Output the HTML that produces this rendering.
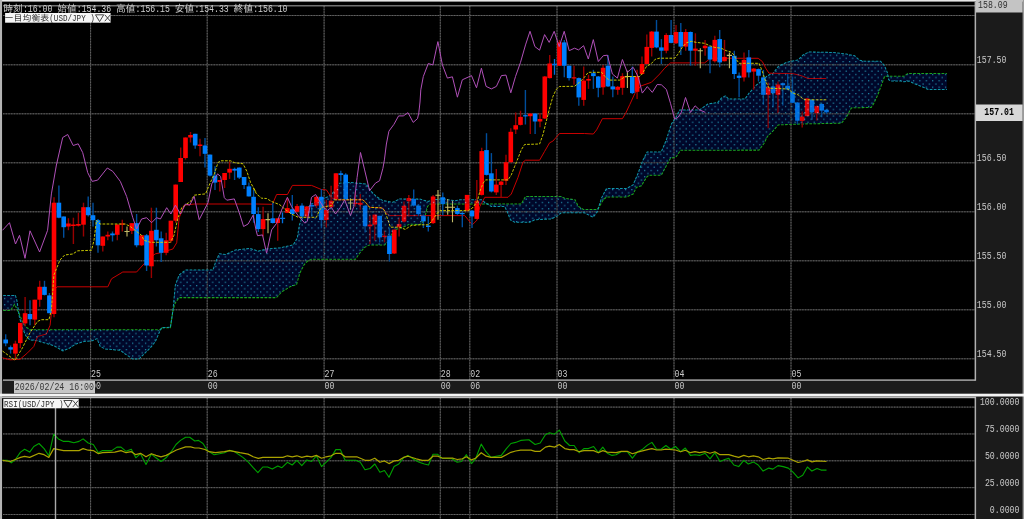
<!DOCTYPE html>
<html lang="ja"><head><meta charset="utf-8"><title>一目均衡表 USD/JPY</title>
<style>html,body{margin:0;padding:0;background:#000;overflow:hidden}body{width:1024px;height:519px}svg text{white-space:pre}</style>
</head><body>
<svg width="1024" height="519" viewBox="0 0 1024 519" style="display:block">
<defs>
<pattern id="dots" x="0" y="0" width="8" height="8" patternUnits="userSpaceOnUse"><rect width="8" height="8" fill="#01082b"/></pattern>
<pattern id="dots2" x="4.1" y="3.4" width="6.4" height="6.4" patternUnits="userSpaceOnUse"><rect x="0" y="0" width="1.2" height="1.2" fill="#2290ac"/><rect x="3.2" y="3.2" width="1.2" height="1.2" fill="#2290ac"/></pattern>
<filter id="bl2" color-interpolation-filters="sRGB" x="-2%" y="-2%" width="104%" height="104%"><feGaussianBlur stdDeviation="0.3"/></filter>
<filter id="bl" color-interpolation-filters="sRGB" x="-2%" y="-2%" width="104%" height="104%"><feGaussianBlur stdDeviation="0.62"/></filter>
</defs>
<rect width="1024" height="519" fill="#000"/>
<g id="all" filter="url(#bl)">
<defs><polygon id="cl" points="3.2,295.4 4.2,295.4 5.2,295.4 6.2,295.4 7.2,295.4 8.2,295.4 9.2,295.4 10.2,295.4 10.5,295.4 11.2,295.4 12.2,295.4 13.2,295.4 14.2,295.4 14.6,295.4 15.2,295.4 15.4,295.4 16.2,298.2 17.0,301.0 17.2,302.4 17.8,306.4 18.2,309.1 19.2,315.8 19.4,317.2 20.2,319.9 21.2,323.4 22.2,326.8 22.7,328.5 23.2,329.6 24.2,331.9 25.2,334.2 25.9,335.8 26.2,336.1 27.2,337.1 28.2,338.1 29.2,339.1 30.0,339.9 30.2,339.9 31.2,340.0 32.2,340.1 33.2,340.3 34.2,340.4 35.2,340.5 36.2,340.6 37.2,340.7 38.2,341.0 39.2,341.4 40.2,341.7 41.2,342.0 42.0,342.3 42.2,342.3 43.2,342.6 44.2,342.8 45.2,343.1 46.2,343.3 47.2,343.6 48.2,343.8 48.5,343.9 49.2,344.2 50.2,344.5 51.2,344.9 52.2,345.3 53.2,345.6 54.2,346.0 55.0,346.3 55.2,346.4 56.2,347.0 57.2,347.6 58.2,348.1 59.2,348.7 60.2,349.3 61.2,349.9 62.2,350.4 63.0,350.9 63.2,350.8 64.2,350.4 65.2,349.9 66.2,349.5 67.2,349.1 68.2,348.6 69.2,348.2 69.6,348.0 70.2,347.6 71.2,347.0 72.2,346.3 73.2,345.7 74.2,345.1 75.2,344.4 76.0,343.9 76.2,343.8 77.2,343.5 78.2,343.2 79.2,342.9 80.2,342.6 81.2,342.3 82.2,342.0 83.2,341.7 84.0,341.5 84.2,341.5 85.2,341.4 86.2,341.3 87.2,341.2 88.2,341.1 89.2,341.0 90.2,340.9 91.2,340.8 92.2,340.7 93.2,340.3 94.2,339.8 95.2,339.4 96.2,338.9 97.0,338.6 97.2,339.1 98.2,341.5 99.2,343.9 100.2,346.3 100.3,346.5 101.2,346.9 102.2,347.4 103.2,347.9 104.2,348.4 105.2,348.9 105.3,349.0 106.2,349.1 107.2,349.2 108.2,349.3 109.2,349.3 110.2,349.4 111.2,349.5 112.2,349.6 113.2,349.7 114.2,349.8 115.2,349.9 116.2,349.9 117.2,350.0 118.2,350.1 119.2,350.2 120.2,350.3 120.3,350.3 121.2,351.0 122.2,351.7 123.2,352.4 124.2,353.2 125.2,353.9 125.3,354.0 126.2,354.6 127.2,355.3 128.2,355.9 129.2,356.6 130.2,357.3 131.2,357.9 132.2,358.6 132.8,359.0 133.2,359.0 134.2,359.0 135.2,359.0 136.2,359.0 137.2,359.0 138.2,359.0 139.0,359.0 139.2,358.8 140.2,357.8 141.2,356.8 142.2,355.8 143.2,354.8 144.0,354.0 144.2,353.8 145.2,352.8 146.2,351.8 147.2,350.9 148.2,349.9 149.2,348.9 150.2,347.9 150.4,347.7 151.2,346.7 152.2,345.5 153.2,344.2 154.2,343.0 155.2,341.7 155.4,341.5 156.2,339.6 157.2,337.2 158.2,334.8 159.1,332.7 159.2,332.5 160.2,330.6 160.4,330.2 161.2,328.7 161.7,327.7 162.2,327.7 163.2,327.6 164.2,327.6 165.2,327.5 166.2,327.4 167.2,327.4 168.2,327.3 169.2,327.3 170.2,327.2 170.4,327.2 171.2,321.9 172.2,315.3 173.0,310.0 173.2,307.9 174.2,297.5 175.2,287.1 175.4,285.0 176.2,282.9 177.2,280.3 178.2,277.6 179.2,275.0 180.2,274.2 181.2,273.4 182.2,272.6 183.2,271.8 184.2,271.0 185.2,270.2 185.5,270.0 186.2,270.0 187.2,270.0 188.2,270.0 189.2,270.0 190.2,270.0 191.2,270.0 192.2,270.0 193.2,270.0 194.2,270.0 195.2,270.0 196.2,270.0 197.2,270.0 198.2,270.0 199.2,270.0 200.2,270.0 201.2,270.0 202.2,270.0 203.2,270.0 204.2,270.0 205.2,270.0 206.2,270.0 207.2,270.0 208.2,270.0 209.2,270.0 210.2,270.0 211.2,270.0 212.2,270.0 213.0,270.0 213.2,269.4 214.2,266.4 215.2,263.4 215.5,262.5 216.2,260.9 217.2,258.6 218.2,256.3 219.2,254.0 219.3,253.8 220.2,253.9 221.2,254.0 222.2,254.1 223.2,254.2 224.2,254.3 225.2,254.5 225.6,254.5 226.2,254.2 227.2,253.8 228.2,253.3 229.2,252.9 230.2,252.4 231.2,252.0 232.2,251.5 233.2,251.1 234.2,250.6 235.2,250.2 235.6,250.0 236.2,249.9 237.2,249.8 238.2,249.7 239.2,249.6 240.0,249.5 240.2,249.5 241.2,249.4 242.2,249.3 243.2,249.2 244.2,249.1 245.2,249.0 246.2,248.9 247.2,248.8 248.2,248.7 249.2,248.6 250.0,248.5 250.2,248.6 251.2,248.9 252.2,249.2 253.2,249.5 254.2,249.9 255.2,250.2 256.0,250.5 256.2,250.5 257.2,250.8 258.2,251.2 258.3,251.2 259.2,251.0 260.2,250.7 261.2,250.4 262.2,250.2 263.2,249.9 264.2,249.6 265.2,249.4 266.2,249.1 266.6,249.0 267.2,249.0 268.2,248.9 269.2,248.8 270.2,248.7 271.2,248.6 272.2,248.5 273.2,248.5 274.2,248.4 275.2,248.3 276.2,248.2 276.5,248.2 277.2,248.1 278.2,248.0 279.2,248.0 279.9,247.9 280.2,247.8 281.2,247.6 282.0,247.4 282.2,247.4 283.2,247.2 284.2,246.9 284.9,246.8 285.2,246.7 286.2,246.5 287.2,246.3 288.2,246.0 289.2,245.8 289.9,245.6 290.2,245.6 291.2,245.4 292.2,245.1 293.2,244.9 294.2,243.3 295.2,241.6 296.2,240.0 296.5,239.5 297.2,238.4 297.3,238.2 298.2,232.5 299.2,226.3 299.4,225.0 299.8,223.9 300.2,222.7 301.2,219.9 302.2,217.1 303.2,214.3 304.0,212.1 304.2,211.5 304.8,209.8 305.2,209.5 306.2,208.7 307.2,207.9 308.1,207.2 308.2,207.1 309.2,206.3 310.2,205.5 311.2,204.7 311.5,204.5 312.2,203.9 313.1,203.2 313.2,203.2 314.2,202.7 315.2,202.3 316.2,201.9 317.2,201.5 318.2,201.1 319.2,200.6 320.2,200.2 321.2,199.8 322.2,199.4 323.1,199.0 323.2,199.0 324.2,198.5 325.2,198.0 326.2,197.5 327.2,197.0 328.2,196.5 329.2,196.0 330.2,195.5 331.2,195.0 331.4,194.9 332.2,193.8 333.2,192.4 334.2,191.0 335.2,189.5 336.2,188.1 337.2,186.7 338.2,185.3 339.2,183.9 339.7,183.2 340.2,183.2 341.2,183.1 342.2,183.0 343.2,182.9 344.2,182.8 345.2,182.8 346.2,182.7 347.2,182.6 348.2,182.5 349.2,182.4 349.7,182.4 350.2,182.4 351.2,182.5 352.2,182.6 353.2,182.7 354.2,182.8 355.2,182.9 355.5,183.0 356.2,183.0 357.2,183.1 358.2,183.2 359.2,183.3 359.6,183.4 360.2,183.4 361.2,183.5 362.2,183.6 363.2,183.7 364.2,183.8 364.6,183.8 365.2,183.9 366.2,184.0 366.3,184.0 367.2,185.5 368.2,187.1 369.2,188.7 369.6,189.4 370.2,190.4 370.4,190.7 371.2,191.5 372.2,192.5 373.2,193.5 374.2,194.5 375.2,195.5 376.2,196.5 377.2,197.1 378.2,197.8 379.2,198.4 380.2,199.0 381.2,199.6 382.2,200.3 382.9,200.7 383.2,200.7 384.2,200.9 384.6,201.0 385.2,201.1 386.2,201.2 387.2,201.4 387.9,201.5 388.2,201.5 389.2,201.7 390.2,201.9 391.2,202.0 392.2,202.2 392.9,202.3 393.2,202.2 394.2,201.7 394.5,201.5 395.2,201.2 396.2,200.7 397.2,200.2 398.2,199.7 399.2,199.2 399.5,199.0 400.2,199.0 401.2,199.0 402.2,199.0 403.2,199.0 404.2,199.0 404.5,199.0 405.2,199.0 406.2,199.0 407.2,199.0 408.2,199.0 409.2,199.0 409.5,199.0 410.2,199.0 411.2,199.0 412.2,199.0 413.2,199.0 414.2,199.0 415.2,199.0 416.2,199.0 417.2,199.0 418.2,199.0 419.2,199.0 419.4,199.0 420.2,199.2 421.2,199.5 422.0,199.7 422.2,199.8 423.2,200.1 424.2,200.3 425.0,200.6 425.2,200.6 426.2,200.9 427.2,201.2 427.5,201.3 428.2,201.5 428.3,201.5 429.2,201.0 430.0,200.6 430.2,200.5 431.2,200.0 431.6,199.8 432.2,199.8 433.2,199.7 434.2,199.6 435.2,199.6 436.2,199.5 437.2,199.5 438.2,199.4 439.2,199.3 440.2,199.3 441.2,199.2 442.2,199.2 443.2,199.1 444.2,199.0 444.9,199.0 445.2,199.1 446.2,199.3 447.2,199.6 448.2,199.8 449.2,199.9 450.2,200.1 451.2,200.2 452.2,200.3 453.2,200.5 454.2,200.6 454.9,200.7 455.2,200.6 456.2,200.5 457.2,200.3 458.2,200.1 459.2,199.9 459.9,199.8 460.2,199.8 461.2,199.8 462.2,199.8 463.2,199.8 464.2,199.8 465.2,199.8 466.2,199.8 467.2,199.8 468.2,199.8 469.2,199.8 470.2,199.8 471.2,199.8 472.2,199.8 473.2,199.8 474.2,199.8 475.2,199.8 476.2,199.8 477.2,199.8 478.2,199.8 479.2,199.8 480.2,199.8 481.2,199.8 481.4,199.8 482.2,200.4 483.2,201.1 484.2,201.9 484.8,202.3 485.2,202.6 486.2,203.2 487.2,203.8 488.2,204.5 489.2,205.1 490.2,205.7 491.2,206.4 491.4,206.5 492.2,206.5 493.2,206.5 494.2,206.5 495.2,206.5 496.2,206.5 497.2,206.5 498.2,206.5 499.2,206.5 500.2,206.5 501.2,206.5 502.2,206.5 503.2,206.5 504.2,206.5 504.7,206.5 505.2,207.5 506.2,209.5 507.2,211.5 508.2,214.0 509.2,216.5 510.2,219.0 510.5,219.8 511.2,220.2 512.2,220.8 513.2,221.4 514.2,222.0 514.7,222.3 515.2,222.3 516.2,222.3 517.2,222.3 518.2,222.3 519.2,222.3 520.2,222.3 521.2,222.3 521.3,222.3 522.2,222.3 523.2,222.3 524.2,222.3 525.2,222.3 525.5,222.3 526.2,222.3 527.2,222.3 528.2,222.3 529.2,222.3 529.6,222.3 530.2,222.0 531.2,221.5 532.2,221.0 533.2,220.5 534.2,220.0 534.6,219.8 535.2,219.8 536.2,219.7 537.2,219.7 538.2,219.6 539.2,219.6 540.2,219.5 541.2,219.4 542.2,219.4 543.2,219.3 544.2,219.3 545.2,219.2 546.2,219.2 547.2,219.1 548.2,219.1 549.2,219.0 550.2,219.0 551.2,218.9 552.2,218.4 553.2,217.9 554.2,217.4 555.2,216.9 556.2,216.4 557.2,215.9 557.9,215.6 558.2,215.3 559.2,214.5 560.2,213.6 561.2,212.8 562.2,212.8 563.2,212.8 564.2,212.8 564.5,212.8 565.2,212.8 566.2,212.8 567.2,212.8 568.2,212.8 569.2,212.8 570.2,212.8 571.2,212.8 572.2,212.8 573.2,212.8 574.2,212.8 574.5,212.8 575.0,212.8 575.2,212.8 576.2,212.8 577.2,212.8 578.2,212.8 578.3,212.8 579.2,212.8 580.2,212.8 581.2,212.8 582.2,212.8 583.2,212.8 583.3,212.8 584.2,212.8 584.4,212.8 585.2,213.2 586.2,213.7 587.2,214.2 588.2,214.7 589.2,215.2 590.2,215.7 591.2,216.2 592.2,216.7 593.2,217.2 594.2,215.8 595.2,214.4 596.2,213.1 597.2,211.7 597.4,211.4 598.2,208.8 599.2,205.6 599.9,203.3 600.2,202.3 601.2,199.1 601.5,198.1 602.2,196.8 603.2,194.8 604.2,192.9 605.2,191.0 606.2,189.1 606.5,188.5 607.2,188.5 608.2,188.5 609.2,188.5 610.2,188.5 611.2,188.5 612.2,188.5 613.2,188.5 614.2,188.5 615.2,188.5 616.2,188.5 617.2,188.5 618.2,188.5 619.2,188.5 620.2,188.5 621.2,188.5 622.2,188.5 623.2,188.5 624.2,188.5 625.2,188.5 626.2,188.5 626.4,188.5 627.2,188.1 628.2,187.5 629.2,187.0 630.2,186.5 631.2,185.9 632.2,185.4 633.1,184.9 633.2,184.7 634.2,182.3 635.2,180.0 636.2,177.6 636.4,177.2 637.2,175.3 638.1,173.2 638.2,172.9 639.2,170.3 640.2,167.6 641.2,165.0 641.4,164.4 642.2,162.3 643.1,159.9 643.2,159.7 644.2,157.8 645.2,155.9 646.2,153.9 646.4,153.5 647.2,152.0 648.2,152.0 648.9,152.0 649.2,152.0 650.2,152.0 651.2,152.0 652.2,152.0 653.2,152.0 654.2,152.0 655.2,152.0 656.2,152.0 657.2,152.0 658.2,152.0 659.2,152.0 660.2,152.0 661.2,152.0 661.3,152.0 662.2,149.8 663.2,147.5 664.2,145.1 665.2,142.7 666.2,140.3 666.3,140.0 666.4,139.8 667.2,137.3 668.2,134.1 669.2,131.0 670.2,127.8 670.5,126.8 671.2,124.6 671.4,124.0 672.2,122.9 673.2,121.5 674.2,120.0 675.2,118.6 675.5,118.2 676.2,116.8 676.3,116.6 677.2,114.8 678.2,112.9 679.2,110.9 679.7,109.9 680.2,109.9 680.4,109.9 681.2,109.9 682.2,109.9 683.2,109.9 684.2,109.9 685.2,109.9 686.2,109.9 687.2,109.9 688.2,109.9 689.2,109.9 690.2,109.9 691.2,109.9 692.2,109.9 693.2,109.9 694.2,109.9 695.2,109.9 696.2,109.9 697.2,109.9 698.2,109.9 699.2,109.9 699.6,109.9 700.2,109.5 701.2,108.8 702.2,108.1 703.2,107.4 704.2,106.7 705.2,106.0 706.2,105.3 707.2,104.6 707.9,104.1 708.2,104.0 709.2,103.9 710.2,103.7 711.2,103.5 712.2,103.4 713.2,103.2 714.2,103.0 715.2,102.9 716.2,102.7 717.2,102.5 717.9,102.4 718.2,102.0 719.2,100.8 720.2,99.5 721.2,98.3 722.2,97.7 723.2,97.1 724.2,96.5 725.2,95.9 725.3,95.8 726.2,96.7 727.2,97.6 728.2,98.6 728.7,99.1 729.2,99.1 730.2,99.1 731.2,99.1 732.2,99.1 733.2,99.1 734.2,99.1 735.2,99.1 736.2,99.1 737.2,99.0 738.2,99.0 739.2,99.0 740.2,99.0 741.2,99.0 742.2,99.0 743.2,99.0 744.2,99.0 745.0,99.0 745.2,98.7 746.2,97.3 747.2,95.9 748.2,94.5 749.1,93.2 749.2,93.1 750.2,92.0 751.2,90.9 752.2,89.8 753.2,88.7 754.2,87.6 755.2,86.4 756.2,85.3 756.6,84.9 757.2,84.4 758.2,83.7 759.1,83.0 759.2,82.9 760.2,82.2 761.2,81.4 762.2,80.7 763.2,79.9 764.1,79.0 764.2,78.9 765.2,77.9 766.2,76.9 767.2,75.9 767.4,75.7 768.2,75.4 769.2,74.9 770.2,74.5 771.2,74.1 772.2,73.6 773.2,73.2 774.2,71.9 775.2,70.6 776.2,69.2 777.2,67.9 778.2,66.6 779.2,66.1 780.2,65.6 781.2,65.1 782.2,64.6 783.2,64.1 784.2,63.6 785.2,63.1 786.2,62.6 786.5,62.4 787.2,62.2 788.2,62.0 789.2,61.8 790.2,61.6 791.2,61.4 792.2,61.2 793.2,61.0 794.2,60.7 795.2,60.5 796.2,60.3 797.2,60.1 798.1,59.9 798.2,59.8 799.2,58.8 799.8,58.2 800.2,57.8 801.2,56.9 802.2,55.9 803.1,55.0 803.2,54.9 804.2,54.4 805.2,53.9 806.2,53.4 807.2,52.9 808.2,52.4 808.9,52.0 809.2,52.0 810.2,52.0 811.2,52.0 812.2,52.1 813.2,52.1 814.2,52.1 815.2,52.1 816.2,52.2 817.2,52.2 818.2,52.2 819.2,52.2 820.2,52.2 821.2,52.3 822.2,52.3 823.2,52.3 824.2,52.3 825.2,52.3 826.2,52.4 827.2,52.4 828.2,52.4 829.2,52.4 830.2,52.4 831.2,52.5 832.2,52.5 833.0,52.5 833.2,52.5 834.2,52.6 835.2,52.8 836.2,52.9 837.2,53.0 838.2,53.1 839.2,53.2 840.2,53.4 841.2,53.5 841.3,53.5 842.2,53.6 843.2,53.7 844.2,53.8 845.2,54.0 846.2,54.1 846.3,54.1 847.2,54.3 848.2,54.5 849.2,54.7 850.2,54.9 851.2,55.1 851.3,55.1 852.2,55.3 853.2,55.5 854.2,55.7 854.6,55.8 855.2,56.3 856.2,57.2 857.2,58.1 858.2,59.0 859.2,59.9 859.6,60.3 860.2,60.4 861.2,60.6 862.2,60.8 863.2,61.0 864.2,61.1 864.5,61.2 865.2,61.2 866.2,61.2 867.2,61.2 868.2,61.2 869.2,61.2 870.2,61.2 871.2,61.2 872.2,61.2 873.2,61.2 873.7,61.2 874.2,61.2 875.2,61.2 876.2,61.2 877.2,61.2 877.8,61.2 878.2,61.2 879.2,61.2 880.2,61.2 880.5,61.2 881.2,62.0 881.9,62.8 882.2,63.2 883.2,64.4 884.2,65.5 884.6,66.0 885.2,67.5 886.2,69.9 887.2,72.3 887.4,72.8 888.2,77.0 888.7,79.7 889.2,80.0 890.2,80.6 890.8,81.0 891.2,81.0 892.2,81.0 893.2,81.0 894.2,81.0 895.2,81.0 896.2,81.0 897.2,81.0 898.2,81.0 899.2,81.0 900.2,81.0 901.0,81.0 901.2,81.1 902.2,81.3 903.2,81.6 903.8,81.7 904.2,81.6 905.2,81.5 906.2,81.4 907.2,81.3 907.9,81.2 908.2,81.1 909.2,81.0 910.2,81.5 911.2,82.0 912.2,82.5 913.2,83.0 914.2,83.5 914.7,83.8 915.2,84.0 916.2,84.4 917.2,84.8 918.2,85.2 919.2,85.6 920.2,86.0 921.2,86.3 921.6,86.5 922.2,86.8 923.2,87.2 924.2,87.6 925.2,88.1 926.2,88.5 927.2,89.0 928.2,89.4 928.4,89.5 929.2,89.5 930.2,89.5 931.2,89.5 932.2,89.5 933.2,89.5 934.2,89.5 935.2,89.5 936.2,89.5 937.2,89.5 938.2,89.5 939.2,89.5 940.2,89.5 941.2,89.5 942.2,89.5 943.2,89.5 944.2,89.5 945.2,89.5 946.2,89.5 946.9,89.5 946.9,73.5 946.2,73.5 945.2,73.5 944.2,73.5 943.2,73.5 942.2,73.5 941.2,73.5 940.2,73.5 939.2,73.5 938.2,73.5 937.2,73.5 936.2,73.5 935.2,73.5 934.2,73.5 933.2,73.5 932.2,73.5 931.2,73.5 930.2,73.5 929.2,73.5 928.4,73.5 928.2,73.5 927.2,73.5 926.2,73.5 925.2,73.5 924.2,73.5 923.2,73.5 922.2,73.5 921.6,73.5 921.2,73.5 920.2,73.5 919.2,73.5 918.2,73.5 917.2,73.5 916.2,73.5 915.2,73.5 914.7,73.5 914.2,73.5 913.2,73.5 912.2,73.5 911.2,73.5 910.2,73.5 909.2,73.5 908.2,73.5 907.9,73.5 907.2,74.0 906.2,74.7 905.2,75.3 904.2,76.0 903.8,76.3 903.2,76.3 902.2,76.3 901.2,76.3 901.0,76.3 900.2,76.3 899.2,76.3 898.2,76.3 897.2,76.3 896.2,76.3 895.2,76.3 894.2,76.3 893.2,76.3 892.2,76.3 891.2,76.3 890.8,76.3 890.2,76.3 889.2,76.3 888.7,76.3 888.2,76.3 887.4,76.3 887.2,76.3 886.2,76.3 885.2,76.3 884.6,76.3 884.2,77.4 883.2,80.2 882.2,83.0 881.9,83.8 881.2,85.7 880.5,87.5 880.2,88.3 879.2,91.0 878.2,93.6 877.8,94.7 877.2,96.0 876.2,98.2 875.2,100.3 874.2,102.5 873.7,103.6 873.2,104.4 872.2,105.9 871.2,107.4 870.2,107.4 869.2,107.5 868.2,107.5 867.2,107.5 866.2,107.5 865.2,107.6 864.5,107.6 864.2,107.6 863.2,107.6 862.2,107.6 861.2,107.7 860.2,107.7 859.6,107.7 859.2,107.7 858.2,107.7 857.2,107.8 856.2,107.8 855.2,107.8 854.6,107.8 854.2,107.8 853.2,107.9 852.2,107.9 851.3,107.9 851.2,108.1 850.2,110.0 849.2,111.9 848.2,113.8 847.2,115.7 846.3,117.4 846.2,117.5 845.2,118.7 844.2,119.8 843.2,121.0 842.2,122.2 841.3,123.2 841.2,123.2 840.2,123.2 839.2,123.2 838.2,123.3 837.2,123.3 836.2,123.3 835.2,123.3 834.2,123.3 833.2,123.4 833.0,123.4 832.2,123.4 831.2,123.4 830.2,123.4 829.2,123.4 828.2,123.5 827.2,123.5 826.2,123.5 825.2,123.5 824.2,123.5 823.2,123.5 822.2,123.6 821.2,123.6 820.2,123.6 819.2,123.6 818.2,123.6 817.2,123.7 816.2,123.7 815.2,123.7 814.2,123.7 813.2,123.7 812.2,123.8 811.2,123.8 810.2,123.8 809.2,123.8 808.9,123.8 808.2,123.8 807.2,123.9 806.2,123.9 805.2,123.9 804.2,123.9 803.2,123.9 803.1,123.9 802.2,124.0 801.2,124.0 800.2,124.0 799.8,124.0 799.2,124.0 798.2,124.1 798.1,124.1 797.2,124.1 796.2,124.1 795.2,124.2 794.2,124.2 793.2,124.3 792.2,124.3 791.2,124.4 790.2,124.4 789.2,124.4 788.2,124.5 787.2,124.5 786.5,124.6 786.2,124.6 785.2,124.6 784.2,124.7 783.2,124.7 782.2,124.7 781.2,124.8 780.2,124.8 779.2,124.9 778.2,124.9 777.2,126.1 776.2,127.2 775.2,128.4 774.2,129.5 773.2,130.7 772.2,131.7 771.2,132.7 770.2,133.7 769.2,134.7 768.2,135.7 767.4,136.5 767.2,136.9 766.2,138.9 765.2,141.0 764.2,143.0 764.1,143.2 763.2,144.4 762.2,145.8 761.2,147.2 760.2,148.6 759.2,150.0 759.1,150.1 758.2,150.1 757.2,150.1 756.6,150.1 756.2,150.1 755.2,150.1 754.2,150.1 753.2,150.1 752.2,150.1 751.2,150.1 750.2,150.1 749.2,150.1 749.1,150.1 748.2,150.1 747.2,150.1 746.2,150.1 745.2,150.1 745.0,150.1 744.2,150.1 743.2,150.1 742.2,150.1 741.2,150.1 740.2,150.1 739.2,150.2 738.2,150.2 737.2,150.2 736.2,150.2 735.2,150.2 734.2,150.2 733.2,150.2 732.2,150.2 731.2,150.2 730.2,150.2 729.2,150.2 728.7,150.2 728.2,150.2 727.2,150.2 726.2,150.2 725.3,150.2 725.2,150.2 724.2,150.2 723.2,150.2 722.2,150.2 721.2,150.2 720.2,150.2 719.2,150.2 718.2,150.2 717.9,150.2 717.2,150.2 716.2,150.2 715.2,150.2 714.2,150.2 713.2,150.2 712.2,150.2 711.2,150.2 710.2,150.2 709.2,150.2 708.2,150.2 707.9,150.2 707.2,150.2 706.2,150.2 705.2,150.2 704.2,150.2 703.2,150.2 702.2,150.2 701.2,150.2 700.2,150.2 699.6,150.3 699.2,150.3 698.2,150.3 697.2,150.3 696.2,150.3 695.2,150.3 694.2,150.3 693.2,150.3 692.2,150.3 691.2,150.3 690.2,150.3 689.2,150.3 688.2,150.3 687.2,150.3 686.2,150.3 685.2,150.3 684.2,150.3 683.2,150.3 682.2,150.3 681.2,150.3 680.4,150.3 680.2,150.6 679.7,151.4 679.2,152.1 678.2,153.7 677.2,155.2 676.3,156.6 676.2,156.6 675.5,156.8 675.2,156.9 674.2,157.2 673.2,157.5 672.2,157.8 671.4,158.0 671.2,158.1 670.5,158.3 670.2,158.8 669.2,160.6 668.2,162.4 667.2,164.1 666.4,165.5 666.3,165.7 666.2,165.9 665.2,167.8 664.2,169.7 663.2,171.6 662.2,173.5 661.3,175.2 661.2,175.2 660.2,175.2 659.2,175.2 658.2,175.2 657.2,175.2 656.2,175.2 655.2,175.2 654.2,175.2 653.2,175.2 652.2,175.2 651.2,175.2 650.2,175.2 649.2,175.2 648.9,175.2 648.2,175.8 647.2,176.7 646.4,177.4 646.2,177.7 645.2,179.4 644.2,181.1 643.2,182.7 643.1,182.9 642.2,184.4 641.4,185.7 641.2,185.8 640.2,186.1 639.2,186.4 638.2,186.7 638.1,186.8 637.2,187.0 636.4,187.3 636.2,187.7 635.2,189.7 634.2,191.8 633.2,193.8 633.1,194.0 632.2,194.4 631.2,194.9 630.2,195.3 629.2,195.7 628.2,196.2 627.2,196.6 626.4,197.0 626.2,197.0 625.2,197.0 624.2,197.0 623.2,197.0 622.2,197.0 621.2,197.0 620.2,197.0 619.2,197.0 618.2,197.0 617.2,197.0 616.2,197.0 615.2,197.0 614.2,197.0 613.2,197.0 612.2,197.0 611.2,197.0 610.2,197.0 609.2,197.0 608.2,197.0 607.2,197.0 606.5,197.0 606.2,197.3 605.2,198.1 604.2,199.0 603.2,199.8 602.2,201.6 601.5,202.8 601.2,203.3 600.2,205.1 599.9,205.6 599.2,206.7 598.2,208.2 597.4,209.4 597.2,209.4 596.2,209.4 595.2,209.4 594.2,209.4 593.2,209.4 592.2,209.4 591.2,209.4 590.2,209.4 589.2,209.4 588.2,209.4 587.2,209.4 586.2,209.4 585.2,209.4 584.4,209.4 584.2,209.4 583.3,209.4 583.2,209.3 582.2,208.7 581.2,208.1 580.2,207.5 579.2,206.9 578.3,206.4 578.2,206.2 577.2,204.2 576.2,202.2 575.2,200.2 575.0,199.8 574.5,199.8 574.2,199.8 573.2,199.6 572.2,199.4 571.2,199.3 570.2,199.1 569.2,199.0 568.2,198.8 567.2,198.6 566.2,198.5 565.2,198.3 564.5,198.2 564.2,198.0 563.2,197.5 562.2,197.0 561.2,196.5 560.2,196.5 559.2,196.5 558.2,196.5 557.9,196.5 557.2,196.5 556.2,196.5 555.2,196.5 554.2,196.5 553.2,196.5 552.2,196.5 551.2,196.5 550.2,196.5 549.2,196.5 548.2,196.5 547.2,196.5 546.2,196.5 545.2,196.5 544.2,196.5 543.2,196.5 542.2,196.5 541.2,196.5 540.2,196.5 539.2,196.5 538.2,196.5 537.2,196.5 536.2,196.5 535.2,196.5 534.6,196.5 534.2,196.5 533.2,196.5 532.2,196.5 531.2,196.5 530.2,196.5 529.6,196.5 529.2,196.5 528.2,196.5 527.2,196.5 526.2,196.5 525.5,196.5 525.2,197.0 524.2,198.8 523.2,200.6 522.2,202.4 521.3,204.0 521.2,204.0 520.2,204.0 519.2,204.0 518.2,204.0 517.2,204.0 516.2,204.0 515.2,204.0 514.7,204.0 514.2,204.0 513.2,204.0 512.2,204.0 511.2,204.0 510.5,204.0 510.2,204.0 509.2,204.0 508.2,204.0 507.2,204.0 506.2,204.0 505.2,204.0 504.7,204.0 504.2,204.0 503.2,204.0 502.2,204.0 501.2,204.0 500.2,204.0 499.2,204.0 498.2,204.0 497.2,204.0 496.2,204.0 495.2,204.0 494.2,204.0 493.2,204.0 492.2,204.0 491.4,204.0 491.2,204.0 490.2,204.0 489.2,204.0 488.2,204.0 487.2,204.0 486.2,204.0 485.2,204.0 484.8,204.0 484.2,204.0 483.2,204.0 482.2,204.0 481.4,204.0 481.2,204.0 480.2,204.0 479.2,204.0 478.2,204.0 477.2,204.0 476.2,204.0 475.2,204.0 474.2,204.0 473.2,204.0 472.2,204.0 471.2,204.0 470.2,204.0 469.2,204.0 468.2,204.0 467.2,204.0 466.2,204.0 465.2,204.0 464.2,204.0 463.2,204.0 462.2,204.0 461.2,204.0 460.2,204.0 459.9,204.0 459.2,204.0 458.2,204.0 457.2,204.0 456.2,204.0 455.2,204.0 454.9,204.0 454.2,204.0 453.2,204.0 452.2,204.0 451.2,204.0 450.2,204.0 449.2,204.0 448.2,204.0 447.2,204.0 446.2,204.0 445.2,204.0 444.9,204.0 444.2,204.0 443.2,204.0 442.2,204.0 441.2,204.0 440.2,204.0 439.2,204.0 438.2,204.0 437.2,204.0 436.2,204.0 435.2,204.0 434.2,204.0 433.2,204.0 432.2,204.0 431.6,204.0 431.2,204.0 430.2,204.0 430.0,204.0 429.2,204.8 428.3,205.7 428.2,205.8 427.5,206.5 427.2,207.7 426.2,211.6 425.2,215.6 425.0,216.4 424.2,218.3 423.2,220.7 422.2,223.0 422.0,223.5 421.2,223.8 420.2,224.3 419.4,224.6 419.2,224.6 418.2,224.5 417.2,224.5 416.2,224.4 415.2,224.4 414.2,224.3 413.2,224.3 412.2,224.2 411.2,224.2 410.2,224.1 409.5,224.1 409.2,224.2 408.2,224.8 407.2,225.2 406.2,225.8 405.2,226.2 404.5,226.6 404.2,226.7 403.2,227.0 402.2,227.4 401.2,227.7 400.2,228.1 399.5,228.3 399.2,228.4 398.2,228.7 397.2,229.0 396.2,229.4 395.2,229.7 394.5,229.9 394.2,230.4 393.2,231.9 392.9,232.3 392.2,233.4 391.2,234.9 390.2,236.9 389.2,238.9 388.2,240.9 387.9,241.5 387.2,242.2 386.2,243.3 385.2,244.3 384.6,244.9 384.2,244.9 383.2,244.9 382.9,244.9 382.2,244.9 381.2,244.9 380.2,244.9 379.2,244.9 378.2,244.9 377.2,244.9 376.2,244.9 375.2,244.9 374.2,244.9 373.2,244.9 372.2,244.9 371.2,244.9 370.4,244.9 370.2,244.9 369.6,244.9 369.2,245.1 368.2,245.6 367.2,246.1 366.3,246.6 366.2,246.6 365.2,247.1 364.6,247.4 364.2,247.9 363.2,249.0 362.2,250.2 361.2,251.3 360.2,252.5 359.6,253.2 359.2,253.8 358.2,255.3 357.2,256.8 356.2,258.3 355.5,259.3 355.2,259.3 354.2,259.3 353.2,259.3 352.2,259.3 351.2,259.3 350.2,259.3 349.7,259.3 349.2,259.3 348.2,259.3 347.2,259.3 346.2,259.3 345.2,259.3 344.2,259.3 343.2,259.3 342.2,259.3 341.2,259.3 340.2,259.3 339.7,259.3 339.2,259.3 338.2,259.3 337.2,259.3 336.2,259.3 335.2,259.3 334.2,259.3 333.2,259.3 332.2,259.3 331.4,259.3 331.2,259.3 330.2,259.3 329.2,259.3 328.2,259.3 327.2,259.3 326.2,259.3 325.2,259.3 324.2,259.3 323.2,259.3 323.1,259.3 322.2,259.3 321.2,259.3 320.2,259.3 319.2,259.3 318.2,259.3 317.2,259.3 316.2,259.3 315.2,259.3 314.2,259.3 313.2,259.3 313.1,259.3 312.2,259.3 311.5,259.3 311.2,259.4 310.2,259.8 309.2,260.2 308.2,260.6 308.1,260.6 307.2,261.5 306.2,262.5 305.2,263.6 304.8,264.0 304.2,264.6 304.0,264.8 303.2,266.4 302.2,268.4 301.2,270.3 300.2,272.3 299.8,273.1 299.4,274.5 299.2,275.2 298.2,278.7 297.3,281.9 297.2,282.2 296.5,284.7 296.2,284.8 295.2,285.1 294.2,285.4 293.2,285.7 292.2,286.0 291.2,286.3 290.2,286.6 289.9,286.7 289.2,287.2 288.2,287.8 287.2,288.5 286.2,289.1 285.2,289.8 284.9,290.0 284.2,290.4 283.2,290.9 282.2,291.4 282.0,291.5 281.2,292.4 280.2,293.5 279.9,293.8 279.2,294.6 278.2,295.7 277.2,296.8 276.5,297.6 276.2,297.6 275.2,297.6 274.2,297.6 273.2,297.6 272.2,297.6 271.2,297.6 270.2,297.6 269.2,297.6 268.2,297.6 267.2,297.6 266.6,297.6 266.2,297.6 265.2,297.6 264.2,297.6 263.2,297.6 262.2,297.6 261.2,297.6 260.2,297.6 259.2,297.6 258.3,297.6 258.2,297.6 257.2,297.6 256.2,297.6 256.0,297.6 255.2,297.6 254.2,297.6 253.2,297.6 252.2,297.6 251.2,297.6 250.2,297.6 250.0,297.6 249.2,297.6 248.2,297.6 247.2,297.6 246.2,297.6 245.2,297.6 244.2,297.6 243.2,297.6 242.2,297.6 241.2,297.6 240.2,297.6 240.0,297.6 239.2,297.6 238.2,297.6 237.2,297.6 236.2,297.6 235.6,297.6 235.2,297.6 234.2,297.6 233.2,297.6 232.2,297.6 231.2,297.6 230.2,297.6 229.2,297.6 228.2,297.6 227.2,297.6 226.2,297.6 225.6,297.6 225.2,297.6 224.2,297.6 223.2,297.6 222.2,297.6 221.2,297.6 220.2,297.6 219.3,297.6 219.2,297.6 218.2,297.6 217.2,297.6 216.2,297.6 215.5,297.6 215.2,297.6 214.2,297.6 213.2,297.6 213.0,297.6 212.2,297.6 211.2,297.6 210.2,297.6 209.2,297.6 208.2,297.6 207.2,297.6 206.2,297.6 205.2,297.6 204.2,297.6 203.2,297.6 202.2,297.6 201.2,297.6 200.2,297.6 199.2,297.6 198.2,297.6 197.2,297.6 196.2,297.6 195.2,297.6 194.2,297.6 193.2,297.6 192.2,297.6 191.2,297.6 190.2,297.6 189.2,297.6 188.2,297.6 187.2,297.6 186.2,297.6 185.5,297.6 185.2,297.6 184.2,297.6 183.2,297.6 182.2,297.6 181.2,297.6 180.2,297.6 179.2,297.6 178.2,298.9 177.2,300.2 176.2,301.5 175.4,302.6 175.2,303.2 174.2,306.3 173.2,309.4 173.0,310.0 172.2,315.4 171.2,322.3 170.4,327.7 170.2,327.7 169.2,327.7 168.2,327.7 167.2,327.7 166.2,327.7 165.2,327.7 164.2,327.7 163.2,327.7 162.2,327.7 161.7,327.7 161.2,328.5 160.4,329.7 160.2,329.7 159.2,329.7 159.1,329.7 158.2,329.7 157.2,329.7 156.2,329.7 155.4,329.7 155.2,329.7 154.2,329.7 153.2,329.7 152.2,329.7 151.2,329.7 150.4,329.7 150.2,329.7 149.2,329.7 148.2,329.7 147.2,329.7 146.2,329.7 145.2,329.7 144.2,329.7 144.0,329.7 143.2,329.7 142.2,329.7 141.2,329.7 140.2,329.7 139.2,329.7 139.0,329.7 138.2,329.7 137.2,329.7 136.2,329.7 135.2,329.7 134.2,329.7 133.2,329.7 132.8,329.7 132.2,329.7 131.2,329.7 130.2,329.7 129.2,329.7 128.2,329.7 127.2,329.7 126.2,329.7 125.3,329.7 125.2,329.7 124.2,329.7 123.2,329.7 122.2,329.7 121.2,329.7 120.3,329.7 120.2,329.7 119.2,329.7 118.2,329.7 117.2,329.7 116.2,329.7 115.2,329.7 114.2,329.7 113.2,329.7 112.2,329.7 111.2,329.7 110.2,329.7 109.2,329.7 108.2,329.7 107.2,329.7 106.2,329.7 105.3,329.7 105.2,329.7 104.2,329.7 103.2,329.7 102.2,329.7 101.2,329.7 100.3,329.7 100.2,329.7 99.2,329.7 98.2,329.7 97.2,329.7 97.0,329.7 96.2,329.7 95.2,329.8 94.2,329.8 93.2,329.8 92.2,329.8 91.2,329.8 90.2,329.8 89.2,329.8 88.2,329.8 87.2,329.8 86.2,329.8 85.2,329.8 84.2,329.8 84.0,329.8 83.2,329.8 82.2,329.8 81.2,329.8 80.2,329.8 79.2,329.8 78.2,329.8 77.2,329.8 76.2,329.8 76.0,329.8 75.2,329.8 74.2,329.8 73.2,329.8 72.2,329.8 71.2,329.8 70.2,329.8 69.6,329.8 69.2,329.8 68.2,329.8 67.2,329.8 66.2,329.8 65.2,329.8 64.2,329.8 63.2,329.8 63.0,329.8 62.2,329.8 61.2,329.8 60.2,329.8 59.2,329.8 58.2,329.8 57.2,329.8 56.2,329.8 55.2,329.8 55.0,329.8 54.2,329.8 53.2,329.8 52.2,329.8 51.2,329.8 50.2,329.8 49.2,329.8 48.5,329.8 48.2,329.8 47.2,329.8 46.2,329.8 45.2,329.8 44.2,329.8 43.2,329.8 42.2,329.8 42.0,329.8 41.2,329.8 40.2,329.8 39.2,329.8 38.2,329.8 37.2,329.8 36.2,329.8 35.2,329.8 34.2,329.8 33.2,329.8 32.2,329.8 31.2,329.8 30.2,329.8 30.0,329.8 29.2,329.3 28.2,328.6 27.2,327.9 26.2,327.2 25.9,327.0 25.2,325.9 24.2,324.3 23.2,322.8 22.7,322.0 22.2,320.8 21.2,318.5 20.2,316.2 19.4,314.4 19.2,313.9 18.2,311.6 17.8,310.7 17.2,309.5 17.0,309.1 16.2,307.5 15.4,305.9 15.2,305.5 14.6,304.3 14.2,304.9 13.2,306.4 12.2,307.9 11.2,309.4 10.5,310.4 10.2,310.4 9.2,310.4 8.2,310.4 7.2,310.4 6.2,310.4 5.2,310.4 4.2,310.4 3.2,310.4"/></defs><use href="#cl" fill="url(#dots)"/>
<rect x="975.3" y="0" width="47.700000000000045" height="519" fill="#1b1b1b"/>
<rect x="0" y="380" width="1024" height="14" fill="#1b1b1b"/>
<path d="M90.6 6V380M90.6 398V519" stroke="#3c3c3c" stroke-width="0.95" fill="none"/>
<path d="M90.6 6V380M90.6 398V519" stroke="#686868" stroke-width="0.9" stroke-dasharray="1.35 1.35" fill="none"/>
<path d="M207.2 6V380M207.2 398V519" stroke="#3c3c3c" stroke-width="0.95" fill="none"/>
<path d="M207.2 6V380M207.2 398V519" stroke="#686868" stroke-width="0.9" stroke-dasharray="1.35 1.35" fill="none"/>
<path d="M324.1 6V380M324.1 398V519" stroke="#3c3c3c" stroke-width="0.95" fill="none"/>
<path d="M324.1 6V380M324.1 398V519" stroke="#686868" stroke-width="0.9" stroke-dasharray="1.35 1.35" fill="none"/>
<path d="M440.3 6V380M440.3 398V519" stroke="#3c3c3c" stroke-width="0.95" fill="none"/>
<path d="M440.3 6V380M440.3 398V519" stroke="#686868" stroke-width="0.9" stroke-dasharray="1.35 1.35" fill="none"/>
<path d="M469.8 6V380M469.8 398V519" stroke="#3c3c3c" stroke-width="0.95" fill="none"/>
<path d="M469.8 6V380M469.8 398V519" stroke="#686868" stroke-width="0.9" stroke-dasharray="1.35 1.35" fill="none"/>
<path d="M557 6V380M557 398V519" stroke="#3c3c3c" stroke-width="0.95" fill="none"/>
<path d="M557 6V380M557 398V519" stroke="#686868" stroke-width="0.9" stroke-dasharray="1.35 1.35" fill="none"/>
<path d="M674 6V380M674 398V519" stroke="#3c3c3c" stroke-width="0.95" fill="none"/>
<path d="M674 6V380M674 398V519" stroke="#686868" stroke-width="0.9" stroke-dasharray="1.35 1.35" fill="none"/>
<path d="M791 6V380M791 398V519" stroke="#3c3c3c" stroke-width="0.95" fill="none"/>
<path d="M791 6V380M791 398V519" stroke="#686868" stroke-width="0.9" stroke-dasharray="1.35 1.35" fill="none"/>
<path d="M3 15.5H975.3" stroke="#3c3c3c" stroke-width="0.95" fill="none"/>
<path d="M3 15.5H975.3" stroke="#686868" stroke-width="0.9" stroke-dasharray="1.35 1.35" fill="none"/>
<path d="M3 64.8H975.3" stroke="#3c3c3c" stroke-width="0.95" fill="none"/>
<path d="M3 64.8H975.3" stroke="#686868" stroke-width="0.9" stroke-dasharray="1.35 1.35" fill="none"/>
<path d="M3 113.8H975.3" stroke="#3c3c3c" stroke-width="0.95" fill="none"/>
<path d="M3 113.8H975.3" stroke="#686868" stroke-width="0.9" stroke-dasharray="1.35 1.35" fill="none"/>
<path d="M3 162.8H975.3" stroke="#3c3c3c" stroke-width="0.95" fill="none"/>
<path d="M3 162.8H975.3" stroke="#686868" stroke-width="0.9" stroke-dasharray="1.35 1.35" fill="none"/>
<path d="M3 211.8H975.3" stroke="#3c3c3c" stroke-width="0.95" fill="none"/>
<path d="M3 211.8H975.3" stroke="#686868" stroke-width="0.9" stroke-dasharray="1.35 1.35" fill="none"/>
<path d="M3 260.8H975.3" stroke="#3c3c3c" stroke-width="0.95" fill="none"/>
<path d="M3 260.8H975.3" stroke="#686868" stroke-width="0.9" stroke-dasharray="1.35 1.35" fill="none"/>
<path d="M3 309.8H975.3" stroke="#3c3c3c" stroke-width="0.95" fill="none"/>
<path d="M3 309.8H975.3" stroke="#686868" stroke-width="0.9" stroke-dasharray="1.35 1.35" fill="none"/>
<path d="M3 358.8H975.3" stroke="#3c3c3c" stroke-width="0.95" fill="none"/>
<path d="M3 358.8H975.3" stroke="#686868" stroke-width="0.9" stroke-dasharray="1.35 1.35" fill="none"/>
<path d="M3 407.1H975.3" stroke="#3c3c3c" stroke-width="0.95" fill="none"/>
<path d="M3 407.1H975.3" stroke="#686868" stroke-width="0.9" stroke-dasharray="1.35 1.35" fill="none"/>
<path d="M3 433.95H975.3" stroke="#3c3c3c" stroke-width="0.95" fill="none"/>
<path d="M3 433.95H975.3" stroke="#686868" stroke-width="0.9" stroke-dasharray="1.35 1.35" fill="none"/>
<path d="M3 460.8H975.3" stroke="#3c3c3c" stroke-width="0.95" fill="none"/>
<path d="M3 460.8H975.3" stroke="#686868" stroke-width="0.9" stroke-dasharray="1.35 1.35" fill="none"/>
<path d="M3 487.65H975.3" stroke="#3c3c3c" stroke-width="0.95" fill="none"/>
<path d="M3 487.65H975.3" stroke="#686868" stroke-width="0.9" stroke-dasharray="1.35 1.35" fill="none"/>
<path d="M3 514.5H975.3" stroke="#3c3c3c" stroke-width="0.95" fill="none"/>
<path d="M3 514.5H975.3" stroke="#686868" stroke-width="0.9" stroke-dasharray="1.35 1.35" fill="none"/>
<polyline points="3.2,310.4 10.5,310.4 14.6,304.3 17.8,310.7 22.7,322.0 25.9,327.0 30.0,329.8 160.4,329.7 161.7,327.7 170.4,327.7 173.0,310.0 175.4,302.6 179.2,297.6 256.0,297.6 276.5,297.6 282.0,291.5 284.9,290.0 289.9,286.7 296.5,284.7 299.8,273.1 304.0,264.8 308.1,260.6 311.5,259.3 355.5,259.3 359.6,253.2 364.6,247.4 369.6,244.9 384.6,244.9 387.9,241.5 391.2,234.9 394.5,229.9 399.5,228.3 404.5,226.6 409.5,224.1 419.4,224.6 422.0,223.5 425.0,216.4 427.5,206.5 430.0,204.0 521.3,204.0 525.5,196.5 561.2,196.5 564.5,198.2 574.5,199.8 575.0,199.8 578.3,206.4 583.3,209.4 597.4,209.4 599.9,205.6 603.2,199.8 606.5,197.0 626.4,197.0 633.1,194.0 636.4,187.3 641.4,185.7 646.4,177.4 648.9,175.2 661.3,175.2 666.3,165.7 670.5,158.3 676.3,156.6 680.4,150.3 759.1,150.1 764.1,143.2 767.4,136.5 773.2,130.7 778.2,124.9 799.8,124.0 841.3,123.2 846.3,117.4 851.3,107.9 871.2,107.4 873.7,103.6 877.8,94.7 881.9,83.8 884.6,76.3 903.8,76.3 907.9,73.5 946.9,73.5" fill="none" stroke="#1cb01c" stroke-width="1.05" stroke-dasharray="2.7 1.35"/>
<polyline points="3.2,295.4 15.4,295.4 17.0,301.0 19.4,317.2 22.7,328.5 25.9,335.8 30.0,339.9 37.2,340.7 42.0,342.3 48.5,343.9 55.0,346.3 63.0,350.9 69.6,348.0 76.0,343.9 84.0,341.5 92.2,340.7 97.0,338.6 100.3,346.5 105.3,349.0 120.3,350.3 125.3,354.0 132.8,359.0 139.0,359.0 144.0,354.0 150.4,347.7 155.4,341.5 159.1,332.7 161.7,327.7 170.4,327.2 173.0,310.0 175.4,285.0 179.2,275.0 185.5,270.0 213.0,270.0 215.5,262.5 219.3,253.8 225.6,254.5 235.6,250.0 240.0,249.5 250.0,248.5 258.3,251.2 266.6,249.0 279.9,247.9 293.2,244.9 297.3,238.2 299.4,225.0 304.8,209.8 313.1,203.2 323.1,199.0 331.4,194.9 339.7,183.2 349.7,182.4 366.3,184.0 370.4,190.7 376.2,196.5 382.9,200.7 392.9,202.3 399.5,199.0 419.4,199.0 428.3,201.5 431.6,199.8 444.9,199.0 448.2,199.8 454.9,200.7 459.9,199.8 481.4,199.8 484.8,202.3 491.4,206.5 504.7,206.5 507.2,211.5 510.5,219.8 514.7,222.3 529.6,222.3 534.6,219.8 551.2,218.9 557.9,215.6 561.2,212.8 584.4,212.8 593.2,217.2 597.4,211.4 601.5,198.1 606.5,188.5 626.4,188.5 633.1,184.9 638.1,173.2 643.1,159.9 647.2,152.0 661.3,152.0 666.4,139.8 671.4,124.0 675.5,118.2 679.7,109.9 699.6,109.9 707.9,104.1 717.9,102.4 721.2,98.3 725.3,95.8 728.7,99.1 745.0,99.0 749.1,93.2 756.6,84.9 763.2,79.9 767.4,75.7 773.2,73.2 778.2,66.6 786.5,62.4 798.1,59.9 803.1,55.0 808.9,52.0 833.0,52.5 846.3,54.1 854.6,55.8 859.6,60.3 864.5,61.2 880.5,61.2 884.6,66.0 887.4,72.8 888.7,79.7 890.8,81.0 901.0,81.0 903.8,81.7 909.2,81.0 914.7,83.8 921.6,86.5 928.4,89.5 946.9,89.5" fill="none" stroke="#10a0b0" stroke-width="1.05" stroke-dasharray="2.7 1.35"/>
<polyline points="2.5,357.8 10.0,359.8 20.0,359.3 27.6,352.8 33.8,346.5 37.6,336.5 46.4,334.0 50.1,325.2 53.9,290.0 57.1,286.8 107.8,286.8 111.5,278.8 122.8,272.0 136.6,272.0 144.1,263.8 150.4,257.5 155.4,253.8 160.4,252.8 172.9,249.0 176.7,242.8 179.2,217.7 184.2,205.2 194.2,204.0 256.0,204.0 272.4,204.3 276.6,194.5 287.4,194.5 292.4,185.4 311.5,185.4 321.4,189.5 326.4,189.9 331.4,197.3 334.7,199.8 363.0,199.8 366.3,203.2 369.6,207.3 382.9,208.1 386.2,213.1 389.5,215.6 419.4,215.6 464.8,215.6 468.2,219.8 472.3,224.8 477.3,219.8 479.8,206.5 484.8,197.3 508.0,197.3 511.3,194.0 518.0,177.4 523.0,162.2 525.5,160.2 539.6,160.2 544.6,151.4 549.6,142.8 552.9,141.1 556.2,137.3 559.5,133.5 584.4,133.5 593.3,134.0 596.6,129.9 602.4,118.7 622.4,118.7 625.7,113.2 629.8,104.5 634.8,93.6 640.6,86.1 651.4,82.3 659.7,74.0 664.7,68.2 670.5,62.9 704.6,62.9 709.6,59.0 712.9,58.2 758.2,58.3 762.4,61.6 765.7,68.2 769.0,73.2 793.1,73.7 801.4,75.7 808.1,78.5 826.3,78.5" fill="none" stroke="#c80000" stroke-width="1.0" stroke-linejoin="round"/>
<line x1="5.7" y1="334.2" x2="5.7" y2="346.3" stroke="#004e9c" stroke-width="1.4"/>
<rect x="3.40" y="339.5" width="4.6" height="3.9" fill="#0080ff"/>
<line x1="10.6" y1="345.5" x2="10.6" y2="353.6" stroke="#004e9c" stroke-width="1.4"/>
<rect x="8.30" y="347.2" width="4.6" height="2.4" fill="#0080ff"/>
<line x1="15.4" y1="340.7" x2="15.4" y2="360.0" stroke="#980000" stroke-width="1.4"/>
<rect x="13.10" y="343.6" width="4.6" height="10.0" fill="#ff0000"/>
<line x1="20.3" y1="322.9" x2="20.3" y2="348.0" stroke="#980000" stroke-width="1.4"/>
<rect x="18.00" y="322.9" width="4.6" height="20.2" fill="#ff0000"/>
<line x1="25.1" y1="297.0" x2="25.1" y2="326.0" stroke="#980000" stroke-width="1.4"/>
<rect x="22.80" y="313.2" width="4.6" height="10.2" fill="#ff0000"/>
<line x1="30.0" y1="300.2" x2="30.0" y2="325.3" stroke="#004e9c" stroke-width="1.4"/>
<rect x="27.70" y="314.0" width="4.6" height="5.2" fill="#0080ff"/>
<line x1="34.8" y1="299.7" x2="34.8" y2="325.3" stroke="#980000" stroke-width="1.4"/>
<rect x="32.50" y="299.7" width="4.6" height="19.9" fill="#ff0000"/>
<line x1="39.7" y1="280.8" x2="39.7" y2="306.7" stroke="#980000" stroke-width="1.4"/>
<rect x="37.40" y="286.8" width="4.6" height="12.9" fill="#ff0000"/>
<line x1="44.5" y1="280.8" x2="44.5" y2="295.4" stroke="#004e9c" stroke-width="1.4"/>
<rect x="42.20" y="286.8" width="4.6" height="8.1" fill="#0080ff"/>
<line x1="49.4" y1="293.0" x2="49.4" y2="313.2" stroke="#004e9c" stroke-width="1.4"/>
<rect x="47.10" y="295.4" width="4.6" height="17.8" fill="#0080ff"/>
<line x1="54.0" y1="197.2" x2="54.0" y2="317.2" stroke="#980000" stroke-width="1.4"/>
<rect x="51.70" y="202.7" width="4.6" height="111.3" fill="#ff0000"/>
<line x1="58.9" y1="185.6" x2="58.9" y2="218.2" stroke="#004e9c" stroke-width="1.4"/>
<rect x="56.60" y="202.7" width="4.6" height="15.0" fill="#0080ff"/>
<line x1="63.7" y1="216.5" x2="63.7" y2="237.8" stroke="#004e9c" stroke-width="1.4"/>
<rect x="61.40" y="216.5" width="4.6" height="10.7" fill="#0080ff"/>
<line x1="68.4" y1="218.2" x2="68.4" y2="230.2" stroke="#980000" stroke-width="1.4"/>
<rect x="66.10" y="223.5" width="4.6" height="3.0" fill="#ff0000"/>
<line x1="73.4" y1="217.7" x2="73.4" y2="244.0" stroke="#980000" stroke-width="1.4"/>
<rect x="71.10" y="224.5" width="4.6" height="1.5" fill="#ff0000"/>
<line x1="78.4" y1="212.7" x2="78.4" y2="226.5" stroke="#980000" stroke-width="1.4"/>
<rect x="76.10" y="224.0" width="4.6" height="1.7" fill="#ff0000"/>
<line x1="83.5" y1="202.7" x2="83.5" y2="236.5" stroke="#980000" stroke-width="1.4"/>
<rect x="81.20" y="207.2" width="4.6" height="17.5" fill="#ff0000"/>
<line x1="88.2" y1="196.4" x2="88.2" y2="216.5" stroke="#004e9c" stroke-width="1.4"/>
<rect x="85.90" y="207.2" width="4.6" height="8.0" fill="#0080ff"/>
<line x1="93.0" y1="202.7" x2="93.0" y2="226.5" stroke="#004e9c" stroke-width="1.4"/>
<rect x="90.70" y="215.2" width="4.6" height="5.0" fill="#0080ff"/>
<line x1="98.0" y1="219.0" x2="98.0" y2="252.8" stroke="#004e9c" stroke-width="1.4"/>
<rect x="95.70" y="220.2" width="4.6" height="25.1" fill="#0080ff"/>
<line x1="102.8" y1="236.5" x2="102.8" y2="251.5" stroke="#980000" stroke-width="1.4"/>
<rect x="100.50" y="236.5" width="4.6" height="9.3" fill="#ff0000"/>
<line x1="107.8" y1="231.5" x2="107.8" y2="240.3" stroke="#980000" stroke-width="1.4"/>
<rect x="105.50" y="234.8" width="4.6" height="1.7" fill="#ff0000"/>
<line x1="112.5" y1="231.5" x2="112.5" y2="241.5" stroke="#004e9c" stroke-width="1.4"/>
<rect x="110.20" y="233.5" width="4.6" height="1.8" fill="#0080ff"/>
<line x1="117.3" y1="224.5" x2="117.3" y2="240.3" stroke="#980000" stroke-width="1.4"/>
<rect x="115.00" y="224.5" width="4.6" height="10.3" fill="#ff0000"/>
<line x1="122.3" y1="219.7" x2="122.3" y2="231.5" stroke="#980000" stroke-width="1.4"/>
<rect x="120.00" y="223.5" width="4.6" height="1.2" fill="#ff0000"/>
<path d="M127.0 226.5V236.5M124.4 231.5H129.6" stroke="#c4bc68" stroke-width="1.1" fill="none"/>
<line x1="131.8" y1="223.2" x2="131.8" y2="234.0" stroke="#980000" stroke-width="1.4"/>
<rect x="129.50" y="223.2" width="4.6" height="7.6" fill="#ff0000"/>
<line x1="136.6" y1="214.0" x2="136.6" y2="247.3" stroke="#004e9c" stroke-width="1.4"/>
<rect x="134.30" y="223.2" width="4.6" height="22.1" fill="#0080ff"/>
<line x1="141.6" y1="235.3" x2="141.6" y2="246.0" stroke="#980000" stroke-width="1.4"/>
<rect x="139.30" y="235.3" width="4.6" height="10.0" fill="#ff0000"/>
<line x1="146.6" y1="234.0" x2="146.6" y2="271.0" stroke="#004e9c" stroke-width="1.4"/>
<rect x="144.30" y="235.3" width="4.6" height="30.2" fill="#0080ff"/>
<line x1="151.4" y1="207.7" x2="151.4" y2="278.0" stroke="#980000" stroke-width="1.4"/>
<rect x="149.10" y="230.8" width="4.6" height="35.5" fill="#ff0000"/>
<line x1="156.4" y1="207.7" x2="156.4" y2="246.5" stroke="#004e9c" stroke-width="1.4"/>
<rect x="154.10" y="229.8" width="4.6" height="10.5" fill="#0080ff"/>
<line x1="161.2" y1="231.5" x2="161.2" y2="262.0" stroke="#004e9c" stroke-width="1.4"/>
<rect x="158.90" y="238.3" width="4.6" height="14.5" fill="#0080ff"/>
<line x1="166.2" y1="232.8" x2="166.2" y2="255.3" stroke="#980000" stroke-width="1.4"/>
<rect x="163.90" y="240.3" width="4.6" height="12.5" fill="#ff0000"/>
<line x1="170.9" y1="220.7" x2="170.9" y2="242.8" stroke="#980000" stroke-width="1.4"/>
<rect x="168.60" y="220.7" width="4.6" height="20.1" fill="#ff0000"/>
<line x1="175.7" y1="184.6" x2="175.7" y2="222.7" stroke="#980000" stroke-width="1.4"/>
<rect x="173.40" y="184.6" width="4.6" height="36.1" fill="#ff0000"/>
<line x1="180.7" y1="147.5" x2="180.7" y2="182.0" stroke="#980000" stroke-width="1.4"/>
<rect x="178.40" y="158.0" width="4.6" height="24.0" fill="#ff0000"/>
<line x1="185.5" y1="137.5" x2="185.5" y2="159.6" stroke="#980000" stroke-width="1.4"/>
<rect x="183.20" y="137.5" width="4.6" height="20.5" fill="#ff0000"/>
<line x1="190.5" y1="132.0" x2="190.5" y2="142.5" stroke="#980000" stroke-width="1.4"/>
<rect x="188.20" y="135.0" width="4.6" height="2.5" fill="#ff0000"/>
<line x1="195.2" y1="133.8" x2="195.2" y2="148.8" stroke="#004e9c" stroke-width="1.4"/>
<rect x="192.90" y="133.8" width="4.6" height="11.7" fill="#0080ff"/>
<line x1="200.0" y1="138.8" x2="200.0" y2="156.3" stroke="#980000" stroke-width="1.4"/>
<rect x="197.70" y="144.5" width="4.6" height="1.5" fill="#ff0000"/>
<line x1="205.0" y1="138.0" x2="205.0" y2="167.6" stroke="#004e9c" stroke-width="1.4"/>
<rect x="202.70" y="145.5" width="4.6" height="8.3" fill="#0080ff"/>
<line x1="210.0" y1="154.6" x2="210.0" y2="176.4" stroke="#004e9c" stroke-width="1.4"/>
<rect x="207.70" y="154.6" width="4.6" height="21.0" fill="#0080ff"/>
<line x1="215.0" y1="166.3" x2="215.0" y2="190.0" stroke="#004e9c" stroke-width="1.4"/>
<rect x="212.70" y="175.6" width="4.6" height="7.0" fill="#0080ff"/>
<line x1="219.8" y1="180.0" x2="219.8" y2="191.4" stroke="#980000" stroke-width="1.4"/>
<rect x="217.50" y="180.0" width="4.6" height="2.0" fill="#ff0000"/>
<line x1="224.6" y1="173.0" x2="224.6" y2="188.0" stroke="#980000" stroke-width="1.4"/>
<rect x="222.30" y="173.0" width="4.6" height="7.0" fill="#ff0000"/>
<line x1="229.6" y1="161.3" x2="229.6" y2="178.9" stroke="#980000" stroke-width="1.4"/>
<rect x="227.30" y="168.8" width="4.6" height="3.8" fill="#ff0000"/>
<line x1="234.6" y1="167.6" x2="234.6" y2="180.0" stroke="#004e9c" stroke-width="1.4"/>
<rect x="232.30" y="168.8" width="4.6" height="1.8" fill="#0080ff"/>
<line x1="239.3" y1="167.6" x2="239.3" y2="178.9" stroke="#004e9c" stroke-width="1.4"/>
<rect x="237.00" y="167.6" width="4.6" height="10.0" fill="#0080ff"/>
<line x1="244.1" y1="177.0" x2="244.1" y2="189.0" stroke="#004e9c" stroke-width="1.4"/>
<rect x="241.80" y="177.0" width="4.6" height="8.0" fill="#0080ff"/>
<line x1="248.9" y1="182.6" x2="248.9" y2="196.4" stroke="#004e9c" stroke-width="1.4"/>
<rect x="246.60" y="186.4" width="4.6" height="10.0" fill="#0080ff"/>
<line x1="253.6" y1="190.0" x2="253.6" y2="222.7" stroke="#004e9c" stroke-width="1.4"/>
<rect x="251.30" y="196.8" width="4.6" height="17.2" fill="#0080ff"/>
<line x1="258.3" y1="207.3" x2="258.3" y2="232.0" stroke="#004e9c" stroke-width="1.4"/>
<rect x="256.00" y="214.1" width="4.6" height="15.0" fill="#0080ff"/>
<line x1="263.1" y1="206.7" x2="263.1" y2="236.6" stroke="#980000" stroke-width="1.4"/>
<rect x="260.80" y="219.1" width="4.6" height="10.0" fill="#ff0000"/>
<path d="M268.0 213.3V233.2M265.4 219.6H270.6" stroke="#c4bc68" stroke-width="1.1" fill="none"/>
<line x1="272.8" y1="202.8" x2="272.8" y2="223.5" stroke="#004e9c" stroke-width="1.4"/>
<rect x="270.50" y="218.3" width="4.6" height="4.7" fill="#0080ff"/>
<line x1="277.7" y1="218.3" x2="277.7" y2="240.7" stroke="#980000" stroke-width="1.4"/>
<rect x="275.40" y="218.3" width="4.6" height="4.7" fill="#ff0000"/>
<path d="M282.5 212.5V223.3M279.9 218.3H285.1" stroke="#0070e0" stroke-width="1.3" fill="none"/>
<line x1="287.4" y1="198.2" x2="287.4" y2="213.0" stroke="#980000" stroke-width="1.4"/>
<rect x="285.10" y="208.1" width="4.6" height="4.7" fill="#ff0000"/>
<line x1="292.3" y1="194.9" x2="292.3" y2="220.6" stroke="#004e9c" stroke-width="1.4"/>
<rect x="290.00" y="209.3" width="4.6" height="4.7" fill="#0080ff"/>
<line x1="297.1" y1="204.0" x2="297.1" y2="212.3" stroke="#980000" stroke-width="1.4"/>
<rect x="294.80" y="206.1" width="4.6" height="5.7" fill="#ff0000"/>
<line x1="302.0" y1="203.2" x2="302.0" y2="219.4" stroke="#004e9c" stroke-width="1.4"/>
<rect x="299.70" y="205.6" width="4.6" height="10.8" fill="#0080ff"/>
<line x1="306.8" y1="206.0" x2="306.8" y2="218.0" stroke="#980000" stroke-width="1.4"/>
<rect x="304.50" y="206.5" width="4.6" height="9.9" fill="#ff0000"/>
<line x1="311.7" y1="203.0" x2="311.7" y2="216.4" stroke="#004e9c" stroke-width="1.4"/>
<rect x="309.40" y="205.0" width="4.6" height="1.5" fill="#0080ff"/>
<line x1="316.5" y1="196.0" x2="316.5" y2="208.0" stroke="#980000" stroke-width="1.4"/>
<rect x="314.20" y="196.8" width="4.6" height="8.8" fill="#ff0000"/>
<line x1="321.4" y1="189.0" x2="321.4" y2="228.3" stroke="#004e9c" stroke-width="1.4"/>
<rect x="319.10" y="196.8" width="4.6" height="23.2" fill="#0080ff"/>
<line x1="326.3" y1="199.8" x2="326.3" y2="227.4" stroke="#980000" stroke-width="1.4"/>
<rect x="324.00" y="210.0" width="4.6" height="10.0" fill="#ff0000"/>
<line x1="331.1" y1="185.7" x2="331.1" y2="208.0" stroke="#980000" stroke-width="1.4"/>
<rect x="328.80" y="200.7" width="4.6" height="6.6" fill="#ff0000"/>
<line x1="336.0" y1="173.3" x2="336.0" y2="200.0" stroke="#980000" stroke-width="1.4"/>
<rect x="333.70" y="173.3" width="4.6" height="25.7" fill="#ff0000"/>
<line x1="340.8" y1="170.8" x2="340.8" y2="181.6" stroke="#004e9c" stroke-width="1.4"/>
<rect x="338.50" y="173.3" width="4.6" height="1.6" fill="#0080ff"/>
<line x1="345.7" y1="173.3" x2="345.7" y2="200.0" stroke="#004e9c" stroke-width="1.4"/>
<rect x="343.40" y="174.6" width="4.6" height="24.4" fill="#0080ff"/>
<path d="M350.5 198.2V209.8M347.9 203.0H353.1" stroke="#c4bc68" stroke-width="1.1" fill="none"/>
<line x1="355.4" y1="191.5" x2="355.4" y2="206.5" stroke="#980000" stroke-width="1.4"/>
<rect x="353.10" y="202.8" width="4.6" height="1.2" fill="#ff0000"/>
<line x1="360.3" y1="194.0" x2="360.3" y2="209.8" stroke="#980000" stroke-width="1.4"/>
<rect x="358.00" y="202.8" width="4.6" height="2.0" fill="#ff0000"/>
<line x1="365.1" y1="205.0" x2="365.1" y2="232.4" stroke="#004e9c" stroke-width="1.4"/>
<rect x="362.80" y="205.8" width="4.6" height="20.5" fill="#0080ff"/>
<line x1="370.0" y1="215.0" x2="370.0" y2="244.0" stroke="#980000" stroke-width="1.4"/>
<rect x="367.70" y="224.6" width="4.6" height="1.7" fill="#ff0000"/>
<line x1="374.8" y1="214.6" x2="374.8" y2="240.7" stroke="#980000" stroke-width="1.4"/>
<rect x="372.50" y="214.6" width="4.6" height="10.0" fill="#ff0000"/>
<line x1="379.7" y1="215.8" x2="379.7" y2="242.4" stroke="#004e9c" stroke-width="1.4"/>
<rect x="377.40" y="215.8" width="4.6" height="21.6" fill="#0080ff"/>
<line x1="384.5" y1="230.7" x2="384.5" y2="242.4" stroke="#980000" stroke-width="1.4"/>
<rect x="382.20" y="235.7" width="4.6" height="1.2" fill="#ff0000"/>
<line x1="389.4" y1="228.3" x2="389.4" y2="261.5" stroke="#004e9c" stroke-width="1.4"/>
<rect x="387.10" y="235.7" width="4.6" height="18.3" fill="#0080ff"/>
<line x1="394.3" y1="229.6" x2="394.3" y2="254.0" stroke="#980000" stroke-width="1.4"/>
<rect x="392.00" y="229.6" width="4.6" height="23.9" fill="#ff0000"/>
<line x1="399.1" y1="217.5" x2="399.1" y2="236.6" stroke="#980000" stroke-width="1.4"/>
<rect x="396.80" y="224.1" width="4.6" height="3.0" fill="#ff0000"/>
<line x1="404.0" y1="201.5" x2="404.0" y2="222.5" stroke="#980000" stroke-width="1.4"/>
<rect x="401.70" y="205.8" width="4.6" height="15.8" fill="#ff0000"/>
<line x1="408.8" y1="194.9" x2="408.8" y2="216.6" stroke="#980000" stroke-width="1.4"/>
<rect x="406.50" y="198.2" width="4.6" height="3.0" fill="#ff0000"/>
<line x1="413.7" y1="189.5" x2="413.7" y2="206.5" stroke="#004e9c" stroke-width="1.4"/>
<rect x="411.40" y="199.0" width="4.6" height="6.6" fill="#0080ff"/>
<line x1="418.5" y1="204.0" x2="418.5" y2="216.0" stroke="#004e9c" stroke-width="1.4"/>
<rect x="416.20" y="205.6" width="4.6" height="8.5" fill="#0080ff"/>
<line x1="423.4" y1="214.5" x2="423.4" y2="228.0" stroke="#004e9c" stroke-width="1.4"/>
<rect x="421.10" y="215.6" width="4.6" height="5.8" fill="#0080ff"/>
<line x1="428.3" y1="216.4" x2="428.3" y2="231.4" stroke="#004e9c" stroke-width="1.4"/>
<rect x="426.00" y="225.5" width="4.6" height="1.5" fill="#0080ff"/>
<line x1="433.1" y1="194.9" x2="433.1" y2="224.0" stroke="#980000" stroke-width="1.4"/>
<rect x="430.80" y="196.5" width="4.6" height="26.6" fill="#ff0000"/>
<path d="M438.0 189.9V219.8M435.4 195.2H440.6" stroke="#c4bc68" stroke-width="1.1" fill="none"/>
<line x1="442.8" y1="192.4" x2="442.8" y2="215.6" stroke="#004e9c" stroke-width="1.4"/>
<rect x="440.50" y="197.3" width="4.6" height="6.7" fill="#0080ff"/>
<path d="M447.7 199.0V214.8M445.1 207.3H450.3" stroke="#c4bc68" stroke-width="1.1" fill="none"/>
<path d="M452.5 200.7V222.3M449.9 207.3H455.1" stroke="#c4bc68" stroke-width="1.1" fill="none"/>
<line x1="457.4" y1="205.6" x2="457.4" y2="214.8" stroke="#004e9c" stroke-width="1.4"/>
<rect x="455.10" y="208.1" width="4.6" height="5.9" fill="#0080ff"/>
<line x1="462.3" y1="211.5" x2="462.3" y2="227.2" stroke="#004e9c" stroke-width="1.4"/>
<rect x="460.00" y="213.0" width="4.6" height="1.2" fill="#0080ff"/>
<line x1="467.1" y1="194.9" x2="467.1" y2="211.5" stroke="#980000" stroke-width="1.4"/>
<rect x="464.80" y="194.9" width="4.6" height="15.7" fill="#ff0000"/>
<line x1="472.0" y1="210.0" x2="472.0" y2="228.0" stroke="#004e9c" stroke-width="1.4"/>
<rect x="469.70" y="210.6" width="4.6" height="5.8" fill="#0080ff"/>
<line x1="476.8" y1="179.9" x2="476.8" y2="219.5" stroke="#980000" stroke-width="1.4"/>
<rect x="474.50" y="200.7" width="4.6" height="18.2" fill="#ff0000"/>
<line x1="481.7" y1="147.8" x2="481.7" y2="195.5" stroke="#980000" stroke-width="1.4"/>
<rect x="479.40" y="151.1" width="4.6" height="43.8" fill="#ff0000"/>
<line x1="486.5" y1="133.2" x2="486.5" y2="175.5" stroke="#004e9c" stroke-width="1.4"/>
<rect x="484.20" y="150.1" width="4.6" height="24.8" fill="#0080ff"/>
<line x1="491.4" y1="153.1" x2="491.4" y2="192.4" stroke="#004e9c" stroke-width="1.4"/>
<rect x="489.10" y="173.3" width="4.6" height="18.2" fill="#0080ff"/>
<line x1="496.3" y1="169.1" x2="496.3" y2="194.9" stroke="#980000" stroke-width="1.4"/>
<rect x="494.00" y="184.6" width="4.6" height="7.8" fill="#ff0000"/>
<line x1="501.1" y1="181.0" x2="501.1" y2="197.3" stroke="#980000" stroke-width="1.4"/>
<rect x="498.80" y="181.6" width="4.6" height="3.3" fill="#ff0000"/>
<line x1="506.0" y1="154.8" x2="506.0" y2="184.9" stroke="#980000" stroke-width="1.4"/>
<rect x="503.70" y="162.2" width="4.6" height="18.5" fill="#ff0000"/>
<line x1="510.8" y1="128.2" x2="510.8" y2="162.5" stroke="#980000" stroke-width="1.4"/>
<rect x="508.50" y="131.8" width="4.6" height="30.4" fill="#ff0000"/>
<line x1="515.7" y1="112.4" x2="515.7" y2="134.0" stroke="#980000" stroke-width="1.4"/>
<rect x="513.40" y="125.2" width="4.6" height="4.3" fill="#ff0000"/>
<line x1="520.5" y1="110.7" x2="520.5" y2="125.5" stroke="#980000" stroke-width="1.4"/>
<rect x="518.20" y="116.9" width="4.6" height="8.0" fill="#ff0000"/>
<line x1="525.4" y1="90.0" x2="525.4" y2="124.5" stroke="#004e9c" stroke-width="1.4"/>
<rect x="523.10" y="115.2" width="4.6" height="1.2" fill="#0080ff"/>
<line x1="530.3" y1="113.0" x2="530.3" y2="134.0" stroke="#980000" stroke-width="1.4"/>
<rect x="528.00" y="113.6" width="4.6" height="2.6" fill="#ff0000"/>
<line x1="535.1" y1="113.0" x2="535.1" y2="134.0" stroke="#004e9c" stroke-width="1.4"/>
<rect x="532.80" y="113.6" width="4.6" height="7.9" fill="#0080ff"/>
<line x1="540.0" y1="113.2" x2="540.0" y2="127.3" stroke="#980000" stroke-width="1.4"/>
<rect x="537.70" y="119.0" width="4.6" height="2.5" fill="#ff0000"/>
<line x1="544.8" y1="76.0" x2="544.8" y2="119.0" stroke="#980000" stroke-width="1.4"/>
<rect x="542.50" y="76.5" width="4.6" height="42.0" fill="#ff0000"/>
<line x1="549.7" y1="54.9" x2="549.7" y2="78.5" stroke="#980000" stroke-width="1.4"/>
<rect x="547.40" y="63.5" width="4.6" height="14.6" fill="#ff0000"/>
<path d="M554.5 59.0V74.8M551.9 64.5H557.1" stroke="#0070e0" stroke-width="1.3" fill="none"/>
<line x1="559.4" y1="39.9" x2="559.4" y2="66.0" stroke="#980000" stroke-width="1.4"/>
<rect x="557.10" y="42.4" width="4.6" height="23.3" fill="#ff0000"/>
<line x1="564.3" y1="39.9" x2="564.3" y2="77.3" stroke="#004e9c" stroke-width="1.4"/>
<rect x="562.00" y="42.4" width="4.6" height="23.3" fill="#0080ff"/>
<line x1="569.1" y1="65.5" x2="569.1" y2="80.6" stroke="#004e9c" stroke-width="1.4"/>
<rect x="566.80" y="65.7" width="4.6" height="12.4" fill="#0080ff"/>
<line x1="574.0" y1="65.7" x2="574.0" y2="84.8" stroke="#980000" stroke-width="1.4"/>
<rect x="571.70" y="77.3" width="4.6" height="1.2" fill="#ff0000"/>
<line x1="578.8" y1="77.5" x2="578.8" y2="105.7" stroke="#004e9c" stroke-width="1.4"/>
<rect x="576.50" y="78.1" width="4.6" height="19.3" fill="#0080ff"/>
<line x1="583.7" y1="66.5" x2="583.7" y2="105.7" stroke="#980000" stroke-width="1.4"/>
<rect x="581.40" y="80.6" width="4.6" height="19.3" fill="#ff0000"/>
<line x1="588.5" y1="74.8" x2="588.5" y2="88.9" stroke="#980000" stroke-width="1.4"/>
<rect x="586.20" y="79.0" width="4.6" height="1.6" fill="#ff0000"/>
<line x1="593.4" y1="69.8" x2="593.4" y2="88.9" stroke="#004e9c" stroke-width="1.4"/>
<rect x="591.10" y="73.2" width="4.6" height="2.9" fill="#0080ff"/>
<line x1="598.3" y1="76.0" x2="598.3" y2="97.2" stroke="#004e9c" stroke-width="1.4"/>
<rect x="596.00" y="76.5" width="4.6" height="11.3" fill="#0080ff"/>
<line x1="603.1" y1="64.9" x2="603.1" y2="94.8" stroke="#980000" stroke-width="1.4"/>
<rect x="600.80" y="67.8" width="4.6" height="19.5" fill="#ff0000"/>
<line x1="608.0" y1="54.9" x2="608.0" y2="87.0" stroke="#004e9c" stroke-width="1.4"/>
<rect x="605.70" y="65.7" width="4.6" height="20.7" fill="#0080ff"/>
<line x1="612.8" y1="76.5" x2="612.8" y2="97.2" stroke="#004e9c" stroke-width="1.4"/>
<rect x="610.50" y="86.4" width="4.6" height="3.0" fill="#0080ff"/>
<line x1="617.7" y1="86.0" x2="617.7" y2="94.8" stroke="#980000" stroke-width="1.4"/>
<rect x="615.40" y="86.8" width="4.6" height="3.0" fill="#ff0000"/>
<line x1="622.5" y1="73.2" x2="622.5" y2="94.8" stroke="#980000" stroke-width="1.4"/>
<rect x="620.20" y="76.1" width="4.6" height="11.7" fill="#ff0000"/>
<path d="M627.4 70.7V88.1M624.8 76.5H630.0" stroke="#c4bc68" stroke-width="1.1" fill="none"/>
<line x1="632.3" y1="66.5" x2="632.3" y2="94.0" stroke="#004e9c" stroke-width="1.4"/>
<rect x="630.00" y="76.5" width="4.6" height="16.6" fill="#0080ff"/>
<line x1="637.1" y1="69.8" x2="637.1" y2="98.9" stroke="#980000" stroke-width="1.4"/>
<rect x="634.80" y="76.5" width="4.6" height="15.3" fill="#ff0000"/>
<line x1="642.0" y1="56.5" x2="642.0" y2="75.0" stroke="#980000" stroke-width="1.4"/>
<rect x="639.70" y="64.0" width="4.6" height="10.0" fill="#ff0000"/>
<line x1="646.8" y1="34.6" x2="646.8" y2="64.5" stroke="#980000" stroke-width="1.4"/>
<rect x="644.50" y="46.9" width="4.6" height="17.1" fill="#ff0000"/>
<line x1="651.7" y1="31.0" x2="651.7" y2="56.5" stroke="#980000" stroke-width="1.4"/>
<rect x="649.40" y="31.6" width="4.6" height="16.3" fill="#ff0000"/>
<line x1="656.5" y1="20.0" x2="656.5" y2="48.2" stroke="#004e9c" stroke-width="1.4"/>
<rect x="654.20" y="31.6" width="4.6" height="15.8" fill="#0080ff"/>
<line x1="661.4" y1="39.1" x2="661.4" y2="64.0" stroke="#004e9c" stroke-width="1.4"/>
<rect x="659.10" y="47.4" width="4.6" height="3.3" fill="#0080ff"/>
<line x1="666.3" y1="33.3" x2="666.3" y2="53.2" stroke="#980000" stroke-width="1.4"/>
<rect x="664.00" y="35.0" width="4.6" height="15.7" fill="#ff0000"/>
<line x1="671.1" y1="20.0" x2="671.1" y2="43.3" stroke="#004e9c" stroke-width="1.4"/>
<rect x="668.80" y="35.0" width="4.6" height="7.9" fill="#0080ff"/>
<line x1="676.0" y1="25.0" x2="676.0" y2="44.0" stroke="#980000" stroke-width="1.4"/>
<rect x="673.70" y="32.0" width="4.6" height="11.3" fill="#ff0000"/>
<line x1="680.8" y1="23.0" x2="680.8" y2="54.9" stroke="#004e9c" stroke-width="1.4"/>
<rect x="678.50" y="32.0" width="4.6" height="14.6" fill="#0080ff"/>
<line x1="685.7" y1="29.0" x2="685.7" y2="50.7" stroke="#980000" stroke-width="1.4"/>
<rect x="683.40" y="32.0" width="4.6" height="14.6" fill="#ff0000"/>
<line x1="690.5" y1="31.5" x2="690.5" y2="65.7" stroke="#004e9c" stroke-width="1.4"/>
<rect x="688.20" y="32.0" width="4.6" height="18.7" fill="#0080ff"/>
<line x1="695.4" y1="33.3" x2="695.4" y2="65.7" stroke="#980000" stroke-width="1.4"/>
<rect x="693.10" y="48.6" width="4.6" height="2.1" fill="#ff0000"/>
<path d="M700.3 48.2V68.2M697.7 50.7H702.9" stroke="#c4bc68" stroke-width="1.1" fill="none"/>
<line x1="705.1" y1="39.9" x2="705.1" y2="55.7" stroke="#980000" stroke-width="1.4"/>
<rect x="702.80" y="45.7" width="4.6" height="2.5" fill="#ff0000"/>
<line x1="710.0" y1="46.0" x2="710.0" y2="73.2" stroke="#004e9c" stroke-width="1.4"/>
<rect x="707.70" y="46.6" width="4.6" height="12.9" fill="#0080ff"/>
<line x1="714.8" y1="35.8" x2="714.8" y2="62.4" stroke="#980000" stroke-width="1.4"/>
<rect x="712.50" y="39.9" width="4.6" height="21.3" fill="#ff0000"/>
<line x1="719.7" y1="30.0" x2="719.7" y2="67.3" stroke="#004e9c" stroke-width="1.4"/>
<rect x="717.40" y="39.1" width="4.6" height="23.3" fill="#0080ff"/>
<line x1="724.5" y1="39.9" x2="724.5" y2="61.5" stroke="#980000" stroke-width="1.4"/>
<rect x="722.20" y="56.9" width="4.6" height="4.3" fill="#ff0000"/>
<path d="M729.4 52.4V68.2M726.8 55.4H732.0" stroke="#c4bc68" stroke-width="1.1" fill="none"/>
<line x1="734.3" y1="50.8" x2="734.3" y2="79.0" stroke="#004e9c" stroke-width="1.4"/>
<rect x="732.00" y="55.8" width="4.6" height="18.2" fill="#0080ff"/>
<line x1="739.1" y1="72.4" x2="739.1" y2="97.3" stroke="#004e9c" stroke-width="1.4"/>
<rect x="736.80" y="75.7" width="4.6" height="2.2" fill="#0080ff"/>
<line x1="744.0" y1="52.5" x2="744.0" y2="81.5" stroke="#980000" stroke-width="1.4"/>
<rect x="741.70" y="59.9" width="4.6" height="17.5" fill="#ff0000"/>
<line x1="748.8" y1="50.0" x2="748.8" y2="77.4" stroke="#004e9c" stroke-width="1.4"/>
<rect x="746.50" y="57.4" width="4.6" height="15.0" fill="#0080ff"/>
<line x1="753.7" y1="68.0" x2="753.7" y2="89.8" stroke="#980000" stroke-width="1.4"/>
<rect x="751.40" y="68.6" width="4.6" height="3.0" fill="#ff0000"/>
<line x1="758.5" y1="68.5" x2="758.5" y2="81.5" stroke="#004e9c" stroke-width="1.4"/>
<rect x="756.20" y="69.1" width="4.6" height="6.6" fill="#0080ff"/>
<line x1="763.4" y1="69.9" x2="763.4" y2="104.8" stroke="#004e9c" stroke-width="1.4"/>
<rect x="761.10" y="77.4" width="4.6" height="17.4" fill="#0080ff"/>
<line x1="768.2" y1="82.4" x2="768.2" y2="128.2" stroke="#980000" stroke-width="1.4"/>
<rect x="765.90" y="87.3" width="4.6" height="7.5" fill="#ff0000"/>
<line x1="773.1" y1="79.9" x2="773.1" y2="107.3" stroke="#004e9c" stroke-width="1.4"/>
<rect x="770.80" y="86.5" width="4.6" height="6.7" fill="#0080ff"/>
<line x1="778.0" y1="81.5" x2="778.0" y2="113.1" stroke="#980000" stroke-width="1.4"/>
<rect x="775.70" y="84.5" width="4.6" height="10.3" fill="#ff0000"/>
<line x1="782.8" y1="82.5" x2="782.8" y2="105.6" stroke="#004e9c" stroke-width="1.4"/>
<rect x="780.50" y="83.2" width="4.6" height="2.0" fill="#0080ff"/>
<line x1="787.7" y1="74.1" x2="787.7" y2="90.0" stroke="#004e9c" stroke-width="1.4"/>
<rect x="785.40" y="85.7" width="4.6" height="3.8" fill="#0080ff"/>
<line x1="792.5" y1="76.5" x2="792.5" y2="103.2" stroke="#004e9c" stroke-width="1.4"/>
<rect x="790.20" y="91.5" width="4.6" height="11.3" fill="#0080ff"/>
<line x1="797.4" y1="102.0" x2="797.4" y2="124.3" stroke="#004e9c" stroke-width="1.4"/>
<rect x="795.10" y="102.5" width="4.6" height="18.2" fill="#0080ff"/>
<line x1="802.2" y1="111.5" x2="802.2" y2="127.4" stroke="#980000" stroke-width="1.4"/>
<rect x="799.90" y="116.6" width="4.6" height="4.3" fill="#ff0000"/>
<line x1="807.1" y1="98.0" x2="807.1" y2="116.5" stroke="#980000" stroke-width="1.4"/>
<rect x="804.80" y="98.5" width="4.6" height="17.6" fill="#ff0000"/>
<line x1="812.0" y1="99.3" x2="812.0" y2="119.7" stroke="#004e9c" stroke-width="1.4"/>
<rect x="809.70" y="99.8" width="4.6" height="12.5" fill="#0080ff"/>
<line x1="816.8" y1="105.5" x2="816.8" y2="120.6" stroke="#980000" stroke-width="1.4"/>
<rect x="814.50" y="106.1" width="4.6" height="7.0" fill="#ff0000"/>
<line x1="821.7" y1="102.8" x2="821.7" y2="117.2" stroke="#004e9c" stroke-width="1.4"/>
<rect x="819.40" y="104.0" width="4.6" height="6.6" fill="#0080ff"/>
<line x1="826.5" y1="108.9" x2="826.5" y2="113.9" stroke="#004e9c" stroke-width="1.4"/>
<rect x="824.20" y="109.8" width="4.6" height="2.5" fill="#0080ff"/>
<use href="#cl" fill="#01082b" fill-opacity="0.14"/>
<polyline points="2.5,351.0 15.0,360.3 22.5,347.7 30.0,332.7 37.6,321.4 41.4,319.7 48.9,319.7 51.4,310.0 53.9,275.0 60.0,260.0 64.7,255.0 72.7,254.0 77.7,250.8 91.5,250.3 94.0,240.3 96.5,220.2 100.0,224.0 125.3,224.0 130.3,226.5 136.6,231.5 141.6,235.3 144.0,240.3 150.4,242.3 170.4,242.3 174.0,235.3 178.0,217.7 181.7,207.7 186.7,204.0 190.5,201.4 194.2,195.2 200.5,194.4 205.5,193.9 209.3,185.0 214.3,173.9 218.0,162.6 220.6,160.8 230.6,160.8 234.3,162.6 243.0,163.8 246.9,171.4 250.6,182.6 255.6,191.4 253.3,188.2 256.6,194.0 261.6,198.2 266.6,198.5 271.6,201.5 279.9,204.8 285.7,209.8 291.5,214.0 298.2,217.3 316.4,217.3 318.9,211.5 321.4,207.3 331.4,205.6 334.7,199.8 363.0,199.8 366.3,203.2 369.6,207.3 381.2,207.8 384.6,210.6 387.9,219.8 390.4,227.2 399.5,227.2 405.3,229.4 411.1,225.6 419.4,224.8 428.3,224.8 431.6,221.4 436.6,214.0 439.9,210.6 468.2,210.6 472.3,208.1 477.3,201.5 479.8,191.5 483.1,183.2 485.6,179.9 508.0,179.9 511.3,174.9 514.7,166.3 518.0,158.2 521.3,149.8 524.6,144.5 539.6,144.0 542.9,134.8 546.2,121.5 549.6,108.2 552.9,96.5 556.2,89.5 559.5,86.5 574.5,86.3 579.5,82.3 584.4,77.3 588.3,72.3 601.6,72.3 604.9,76.5 609.1,80.1 619.9,80.1 624.0,77.3 628.2,76.5 639.8,76.5 643.1,72.3 646.4,66.5 651.4,63.5 655.6,59.0 659.7,58.2 674.7,58.2 678.0,54.1 682.2,47.4 686.3,42.9 691.3,41.3 696.3,42.4 704.6,43.3 709.6,45.7 714.6,47.4 721.2,48.2 726.2,50.7 730.0,51.6 733.3,54.1 736.6,59.9 739.1,63.3 759.1,63.3 762.4,71.6 765.7,81.5 769.0,88.2 788.1,89.0 793.1,93.2 798.1,94.8 803.1,99.0 806.4,99.8 826.3,99.8" fill="none" stroke="#d0d000" stroke-width="0.95" stroke-dasharray="2.7 1.35" stroke-linejoin="round"/>
<polyline points="2.5,230.3 9.5,222.7 15.5,244.0 19.5,235.3 25.0,258.3 30.0,230.8 39.6,252.0 47.6,230.3 51.4,193.9 56.4,165.0 62.7,137.5 67.7,134.5 73.2,145.5 78.2,143.8 82.7,152.6 87.7,172.6 92.2,181.4 97.7,180.1 107.3,168.0 112.8,171.4 120.3,181.4 126.6,196.4 132.8,217.7 136.6,229.0 141.6,219.0 146.6,217.7 151.6,222.7 156.6,217.7 160.4,219.0 166.7,207.7 170.9,214.0 175.4,205.2 180.5,214.0 185.5,204.0 189.7,205.2 194.2,196.4 199.2,219.7 208.0,202.7 211.8,183.9 217.5,173.9 220.6,176.4 224.3,197.7 226.8,200.2 234.3,198.9 239.3,212.7 243.6,226.5 248.1,224.0 253.1,215.2 256.1,230.3 257.5,235.7 262.5,234.9 266.6,253.2 271.6,229.9 276.6,223.3 281.6,210.0 287.4,197.3 291.5,206.5 298.2,215.6 304.8,223.1 307.3,221.4 311.5,197.3 315.6,194.5 318.9,199.8 323.1,206.5 327.2,210.6 331.4,207.3 335.5,214.0 340.5,207.3 344.7,199.8 350.5,215.6 353.8,206.5 357.1,177.4 360.5,152.5 364.6,169.9 369.6,190.7 375.4,183.2 379.6,180.7 382.9,168.3 384.4,159.9 386.4,144.0 388.9,131.2 393.9,124.4 398.6,115.9 403.3,115.9 408.0,112.7 413.2,122.4 417.5,118.6 418.8,112.9 420.0,102.0 420.8,89.8 423.3,76.5 428.3,63.5 432.9,64.9 437.9,41.6 442.4,64.9 447.4,78.1 452.4,76.8 457.4,97.2 462.3,79.8 471.5,75.6 476.5,87.8 481.4,68.2 486.1,86.4 491.4,88.9 496.4,86.4 501.4,75.6 506.0,75.1 510.8,92.8 515.5,76.5 520.5,62.4 525.5,44.9 530.0,31.3 534.9,46.6 539.6,50.2 544.6,34.6 549.2,42.4 554.2,31.3 559.2,46.6 564.2,31.3 569.2,50.7 574.5,48.2 578.6,49.9 583.6,45.7 588.3,59.0 593.3,39.6 598.3,61.5 603.3,55.7 607.4,55.2 612.4,74.0 617.4,78.1 622.4,59.5 627.3,72.3 633.2,67.3 638.1,76.5 642.3,93.1 647.3,86.6 652.3,92.4 657.2,84.5 661.4,84.8 666.4,89.5 670.5,103.3 674.7,119.1 678.0,117.4 681.3,112.4 685.5,97.5 690.5,112.4 695.1,105.8 699.6,109.9 705.4,112.4" fill="none" stroke="#b050b8" stroke-width="1.0" stroke-linejoin="round"/>
<polyline points="2.5,460.3 7.2,460.3 11.3,462.9 15.4,459.5 20.5,452.1 24.6,449.2 29.7,452.1 33.8,446.5 39.0,443.5 44.1,448.6 48.8,455.8 53.7,434.2 58.4,438.9 63.6,441.4 68.7,441.4 73.8,442.8 79.0,441.4 83.1,438.9 88.2,443.0 93.3,444.5 98.4,452.7 102.5,450.6 111.8,450.6 116.9,447.1 121.0,447.1 126.1,451.3 131.3,449.2 135.8,457.8 140.5,453.7 146.0,464.4 151.4,454.1 155.9,457.8 161.0,461.5 166.1,457.8 171.2,451.7 176.0,444.5 180.5,440.4 185.6,437.3 189.7,437.3 194.8,441.0 198.5,440.4 203.0,443.5 207.5,450.6 214.2,454.7 219.4,453.7 224.5,452.7 229.6,450.2 234.7,451.7 242.9,457.4 248.1,461.9 253.2,467.7 257.9,472.6 262.8,467.0 267.6,467.0 272.3,469.1 277.8,466.0 281.9,467.7 287.4,462.3 292.2,465.0 296.9,460.3 301.8,465.6 306.9,459.9 311.6,461.5 316.4,455.8 321.5,466.6 326.0,462.3 331.1,457.4 335.8,449.6 340.4,449.6 345.1,460.3 355.7,460.3 360.3,462.3 365.0,469.7 370.1,468.5 374.8,464.0 379.9,472.2 384.5,470.5 389.0,477.3 394.1,466.6 398.8,464.0 403.5,457.8 408.0,455.4 414.1,459.5 419.2,462.3 424.4,464.0 428.5,465.0 433.0,454.3 437.7,454.3 441.8,458.2 452.0,458.8 457.2,462.3 461.3,461.5 466.4,454.7 471.5,463.6 475.6,458.8 481.2,444.1 485.9,451.7 491.0,457.4 496.1,456.2 501.3,455.4 506.4,448.6 510.9,443.5 515.6,442.4 520.7,440.4 528.9,439.8 535.1,444.5 540.2,443.0 545.4,434.8 549.5,432.8 554.6,434.2 559.3,430.1 564.8,441.0 569.6,445.5 574.1,445.5 579.2,452.7 583.9,448.6 588.4,448.6 593.6,446.5 598.3,452.7 602.8,447.1 607.3,453.3 612.0,455.4 616.1,454.7 621.2,451.7 627.3,451.7 632.4,458.2 637.6,451.7 642.7,449.2 647.4,445.1 651.9,442.4 656.6,449.2 661.1,449.2 665.9,445.5 670.8,449.2 675.5,446.5 680.6,451.7 685.3,448.0 690.5,455.4 695.0,454.7 699.5,455.4 705.2,453.3 710.0,458.8 714.9,452.7 720.0,461.5 724.7,459.5 728.8,458.4 733.9,465.0 738.7,466.6 743.8,460.3 748.3,464.0 753.4,461.9 758.2,465.0 763.1,471.1 768.8,468.1 772.9,469.1 778.0,465.6 783.2,466.6 788.3,468.1 793.0,472.2 798.1,477.9 802.7,475.2 807.4,467.0 811.9,471.1 817.0,468.5 821.1,470.1 826.5,470.1" fill="none" stroke="#00a000" stroke-width="1.1" stroke-linejoin="round"/>
<polyline points="2.5,460.3 10.3,461.5 15.4,459.5 20.5,457.4 24.6,456.4 29.7,457.4 39.0,453.3 44.1,454.7 48.8,457.4 53.7,448.6 63.6,450.6 79.0,450.6 83.1,448.6 88.2,450.2 93.3,450.6 98.4,453.7 102.5,452.7 114.8,452.1 121.0,450.6 126.1,452.7 131.3,451.7 135.8,454.7 140.5,453.3 146.0,456.8 151.4,453.7 155.9,455.4 161.0,456.8 166.1,455.4 171.2,452.7 176.4,450.0 185.6,446.9 190.7,446.9 194.8,448.0 198.9,448.0 205.0,449.5 209.1,451.7 215.3,452.7 224.5,451.7 229.6,450.6 239.9,452.7 248.1,454.1 253.2,456.8 258.3,458.4 262.8,457.4 282.9,457.4 287.4,455.8 292.2,456.8 296.9,455.8 301.8,457.4 306.9,456.2 311.6,456.8 316.4,455.4 321.5,458.2 326.0,456.8 331.1,455.8 335.8,453.3 340.4,453.3 345.1,456.8 356.8,456.8 365.0,460.3 370.1,460.3 374.8,458.2 379.9,462.3 384.5,460.9 389.0,463.6 394.1,460.9 398.8,460.3 403.5,457.4 408.0,456.2 416.2,458.8 422.3,460.3 428.5,460.3 433.0,456.2 437.7,456.2 442.8,458.2 453.1,458.2 457.2,459.5 462.3,458.8 466.4,456.8 471.5,459.9 475.6,458.2 481.2,452.7 486.3,456.2 491.0,457.4 501.3,457.4 506.4,454.7 510.9,452.3 515.6,451.0 520.7,450.2 531.0,450.2 535.1,451.3 540.2,451.3 545.4,447.1 549.5,446.1 554.6,447.1 559.3,444.5 564.8,448.6 569.6,449.6 574.1,449.6 579.2,451.7 583.9,450.6 593.6,450.6 598.3,452.7 602.8,450.6 607.3,452.1 616.1,452.7 621.2,451.3 627.3,451.3 632.4,453.7 637.6,452.1 647.4,449.6 651.9,448.6 656.6,450.0 661.1,450.0 665.9,449.2 675.5,450.0 680.6,451.7 685.3,450.2 690.5,452.7 695.0,451.7 699.5,452.7 705.2,451.7 710.0,453.3 714.9,451.7 720.0,454.7 728.8,454.7 733.9,456.2 738.7,457.4 743.8,455.4 748.3,456.8 753.4,455.8 758.2,456.8 763.1,459.5 768.8,458.2 772.9,458.8 778.0,457.8 788.3,458.2 793.0,460.3 798.1,462.5 802.7,461.5 807.4,459.9 811.9,461.9 817.0,460.9 826.5,461.5" fill="none" stroke="#aaa200" stroke-width="1.2" stroke-linejoin="round"/>
<rect x="0" y="0" width="1024" height="1.6" fill="#e8e8e8"/>
<rect x="0" y="0" width="2.05" height="519" fill="#b4b4b4"/>
<rect x="3" y="5.3" width="972.3" height="1.05" fill="#a0a0a0"/>
<rect x="3" y="379.4" width="972.3" height="1.4" fill="#b0b0b0"/>
<rect x="974.5999999999999" y="2" width="1.5" height="378.8" fill="#b0b0b0"/>
<rect x="974.5999999999999" y="398" width="1.5" height="121" fill="#b0b0b0"/>
<rect x="1022.6" y="0" width="1.4" height="519" fill="#9a9a9a"/>
<rect x="0" y="393.7" width="1024" height="2.8" fill="#f4f4f4"/>
<rect x="0" y="396.5" width="976.0999999999999" height="1.7" fill="#bcbcbc"/>
<rect x="54.8" y="408" width="1.4" height="111" fill="#aaaaaa"/>
<text x="976.8" y="63.2" font-family="'Liberation Mono','IPAGothic',monospace" font-size="10" fill="#c8c8c8" textLength="29.7" lengthAdjust="spacingAndGlyphs">157.50</text>
<text x="976.8" y="161.2" font-family="'Liberation Mono','IPAGothic',monospace" font-size="10" fill="#c8c8c8" textLength="29.7" lengthAdjust="spacingAndGlyphs">156.50</text>
<text x="976.8" y="210.2" font-family="'Liberation Mono','IPAGothic',monospace" font-size="10" fill="#c8c8c8" textLength="29.7" lengthAdjust="spacingAndGlyphs">156.00</text>
<text x="976.8" y="259.2" font-family="'Liberation Mono','IPAGothic',monospace" font-size="10" fill="#c8c8c8" textLength="29.7" lengthAdjust="spacingAndGlyphs">155.50</text>
<text x="976.8" y="308.2" font-family="'Liberation Mono','IPAGothic',monospace" font-size="10" fill="#c8c8c8" textLength="29.7" lengthAdjust="spacingAndGlyphs">155.00</text>
<text x="976.8" y="357.2" font-family="'Liberation Mono','IPAGothic',monospace" font-size="10" fill="#c8c8c8" textLength="29.7" lengthAdjust="spacingAndGlyphs">154.50</text>
<rect x="975.8" y="0" width="46.80000000000007" height="12.5" fill="#c4c4c4"/>
<text x="978.0" y="8.2" font-family="'Liberation Mono','IPAGothic',monospace" font-size="10" fill="#303030" textLength="29.7" lengthAdjust="spacingAndGlyphs">158.09</text>
<rect x="975.8" y="104.5" width="46.80000000000007" height="16.5" fill="#d8d8d8"/>
<text x="984.3" y="115.2" font-family="'Liberation Mono','IPAGothic',monospace" font-size="10" fill="#000" font-weight="bold" textLength="29.7" lengthAdjust="spacingAndGlyphs">157.01</text>
<text x="979.9" y="405.0" font-family="'Liberation Mono','IPAGothic',monospace" font-size="10" fill="#c8c8c8" textLength="39.6" lengthAdjust="spacingAndGlyphs">100.0000</text>
<text x="984.9" y="432.2" font-family="'Liberation Mono','IPAGothic',monospace" font-size="10" fill="#c8c8c8" textLength="34.6" lengthAdjust="spacingAndGlyphs">75.0000</text>
<text x="984.9" y="459.4" font-family="'Liberation Mono','IPAGothic',monospace" font-size="10" fill="#c8c8c8" textLength="34.6" lengthAdjust="spacingAndGlyphs">50.0000</text>
<text x="984.9" y="486.2" font-family="'Liberation Mono','IPAGothic',monospace" font-size="10" fill="#c8c8c8" textLength="34.6" lengthAdjust="spacingAndGlyphs">25.0000</text>
<text x="989.8" y="513.2" font-family="'Liberation Mono','IPAGothic',monospace" font-size="10" fill="#c8c8c8" textLength="29.7" lengthAdjust="spacingAndGlyphs">0.0000</text>
<text x="91.1" y="376.6" font-family="'Liberation Mono','IPAGothic',monospace" font-size="10" fill="#c8c8c8" textLength="9.9" lengthAdjust="spacingAndGlyphs">25</text>
<text x="91.1" y="389.0" font-family="'Liberation Mono','IPAGothic',monospace" font-size="10" fill="#c8c8c8" textLength="9.9" lengthAdjust="spacingAndGlyphs">00</text>
<text x="207.7" y="376.6" font-family="'Liberation Mono','IPAGothic',monospace" font-size="10" fill="#c8c8c8" textLength="9.9" lengthAdjust="spacingAndGlyphs">26</text>
<text x="207.7" y="389.0" font-family="'Liberation Mono','IPAGothic',monospace" font-size="10" fill="#c8c8c8" textLength="9.9" lengthAdjust="spacingAndGlyphs">00</text>
<text x="324.6" y="376.6" font-family="'Liberation Mono','IPAGothic',monospace" font-size="10" fill="#c8c8c8" textLength="9.9" lengthAdjust="spacingAndGlyphs">27</text>
<text x="324.6" y="389.0" font-family="'Liberation Mono','IPAGothic',monospace" font-size="10" fill="#c8c8c8" textLength="9.9" lengthAdjust="spacingAndGlyphs">00</text>
<text x="440.8" y="376.6" font-family="'Liberation Mono','IPAGothic',monospace" font-size="10" fill="#c8c8c8" textLength="9.9" lengthAdjust="spacingAndGlyphs">28</text>
<text x="440.8" y="389.0" font-family="'Liberation Mono','IPAGothic',monospace" font-size="10" fill="#c8c8c8" textLength="9.9" lengthAdjust="spacingAndGlyphs">00</text>
<text x="470.3" y="376.6" font-family="'Liberation Mono','IPAGothic',monospace" font-size="10" fill="#c8c8c8" textLength="9.9" lengthAdjust="spacingAndGlyphs">02</text>
<text x="470.3" y="389.0" font-family="'Liberation Mono','IPAGothic',monospace" font-size="10" fill="#c8c8c8" textLength="9.9" lengthAdjust="spacingAndGlyphs">06</text>
<text x="557.5" y="376.6" font-family="'Liberation Mono','IPAGothic',monospace" font-size="10" fill="#c8c8c8" textLength="9.9" lengthAdjust="spacingAndGlyphs">03</text>
<text x="557.5" y="389.0" font-family="'Liberation Mono','IPAGothic',monospace" font-size="10" fill="#c8c8c8" textLength="9.9" lengthAdjust="spacingAndGlyphs">00</text>
<text x="674.5" y="376.6" font-family="'Liberation Mono','IPAGothic',monospace" font-size="10" fill="#c8c8c8" textLength="9.9" lengthAdjust="spacingAndGlyphs">04</text>
<text x="674.5" y="389.0" font-family="'Liberation Mono','IPAGothic',monospace" font-size="10" fill="#c8c8c8" textLength="9.9" lengthAdjust="spacingAndGlyphs">00</text>
<text x="791.5" y="376.6" font-family="'Liberation Mono','IPAGothic',monospace" font-size="10" fill="#c8c8c8" textLength="9.9" lengthAdjust="spacingAndGlyphs">05</text>
<text x="791.5" y="389.0" font-family="'Liberation Mono','IPAGothic',monospace" font-size="10" fill="#c8c8c8" textLength="9.9" lengthAdjust="spacingAndGlyphs">00</text>
<rect x="14" y="381" width="81" height="12.4" fill="#c6c6c6"/>
<text x="14.8" y="389.9" font-family="'Liberation Mono','IPAGothic',monospace" font-size="10" fill="#383838" textLength="79.2" lengthAdjust="spacingAndGlyphs">2026/02/24 16:00</text>
<text x="3.3" y="11.6" font-family="'Liberation Mono','IPAGothic',monospace" font-size="10" fill="#d0d0d0" textLength="19.6" lengthAdjust="spacingAndGlyphs">時刻</text>
<text x="22.9" y="11.6" font-family="'Liberation Mono','IPAGothic',monospace" font-size="10" fill="#d0d0d0" textLength="34.3" lengthAdjust="spacingAndGlyphs">:16:00 </text>
<text x="57.2" y="11.6" font-family="'Liberation Mono','IPAGothic',monospace" font-size="10" fill="#d0d0d0" textLength="19.6" lengthAdjust="spacingAndGlyphs">始値</text>
<text x="76.8" y="11.6" font-family="'Liberation Mono','IPAGothic',monospace" font-size="10" fill="#d0d0d0" textLength="39.2" lengthAdjust="spacingAndGlyphs">:154.36 </text>
<text x="116.0" y="11.6" font-family="'Liberation Mono','IPAGothic',monospace" font-size="10" fill="#d0d0d0" textLength="19.6" lengthAdjust="spacingAndGlyphs">高値</text>
<text x="135.6" y="11.6" font-family="'Liberation Mono','IPAGothic',monospace" font-size="10" fill="#d0d0d0" textLength="39.2" lengthAdjust="spacingAndGlyphs">:156.15 </text>
<text x="174.8" y="11.6" font-family="'Liberation Mono','IPAGothic',monospace" font-size="10" fill="#d0d0d0" textLength="19.6" lengthAdjust="spacingAndGlyphs">安値</text>
<text x="194.4" y="11.6" font-family="'Liberation Mono','IPAGothic',monospace" font-size="10" fill="#d0d0d0" textLength="39.2" lengthAdjust="spacingAndGlyphs">:154.33 </text>
<text x="233.6" y="11.6" font-family="'Liberation Mono','IPAGothic',monospace" font-size="10" fill="#d0d0d0" textLength="19.6" lengthAdjust="spacingAndGlyphs">終値</text>
<text x="253.2" y="11.6" font-family="'Liberation Mono','IPAGothic',monospace" font-size="10" fill="#d0d0d0" textLength="34.3" lengthAdjust="spacingAndGlyphs">:156.10</text>
<rect x="5.1" y="13" width="105.5" height="9.7" fill="#f6f6f6"/>
<text x="4.5" y="21.2" font-family="'Liberation Mono','IPAGothic',monospace" font-size="8.6" fill="#2c2c2c" textLength="44.8" lengthAdjust="spacingAndGlyphs">一目均衡表</text>
<text x="49.3" y="21.2" font-family="'Liberation Mono','IPAGothic',monospace" font-size="8.6" fill="#2c2c2c" textLength="45.5" lengthAdjust="spacingAndGlyphs">(USD/JPY )</text>
<path d="M95.5 14.8H103.7L99.6 21.6Z M104.8 14.8L110.3 21.2 M110.3 14.8L104.8 21.2" fill="none" stroke="#333" stroke-width="0.9"/>
<rect x="3.3" y="398.9" width="75.4" height="9.4" fill="#f6f6f6"/>
<text x="4.0" y="406.8" font-family="'Liberation Mono','IPAGothic',monospace" font-size="8.6" fill="#2c2c2c" textLength="59.5" lengthAdjust="spacingAndGlyphs">RSI(USD/JPY )</text>
<path d="M63.8 400.5H72.2L68 407.4Z M72.9 400.5L78.2 406.9 M78.2 400.5L72.9 406.9" fill="none" stroke="#333" stroke-width="0.9"/>
</g>
<g filter="url(#bl2)" style="mix-blend-mode:lighten"><use href="#cl" fill="url(#dots2)"/></g>
</svg>
</body></html>
